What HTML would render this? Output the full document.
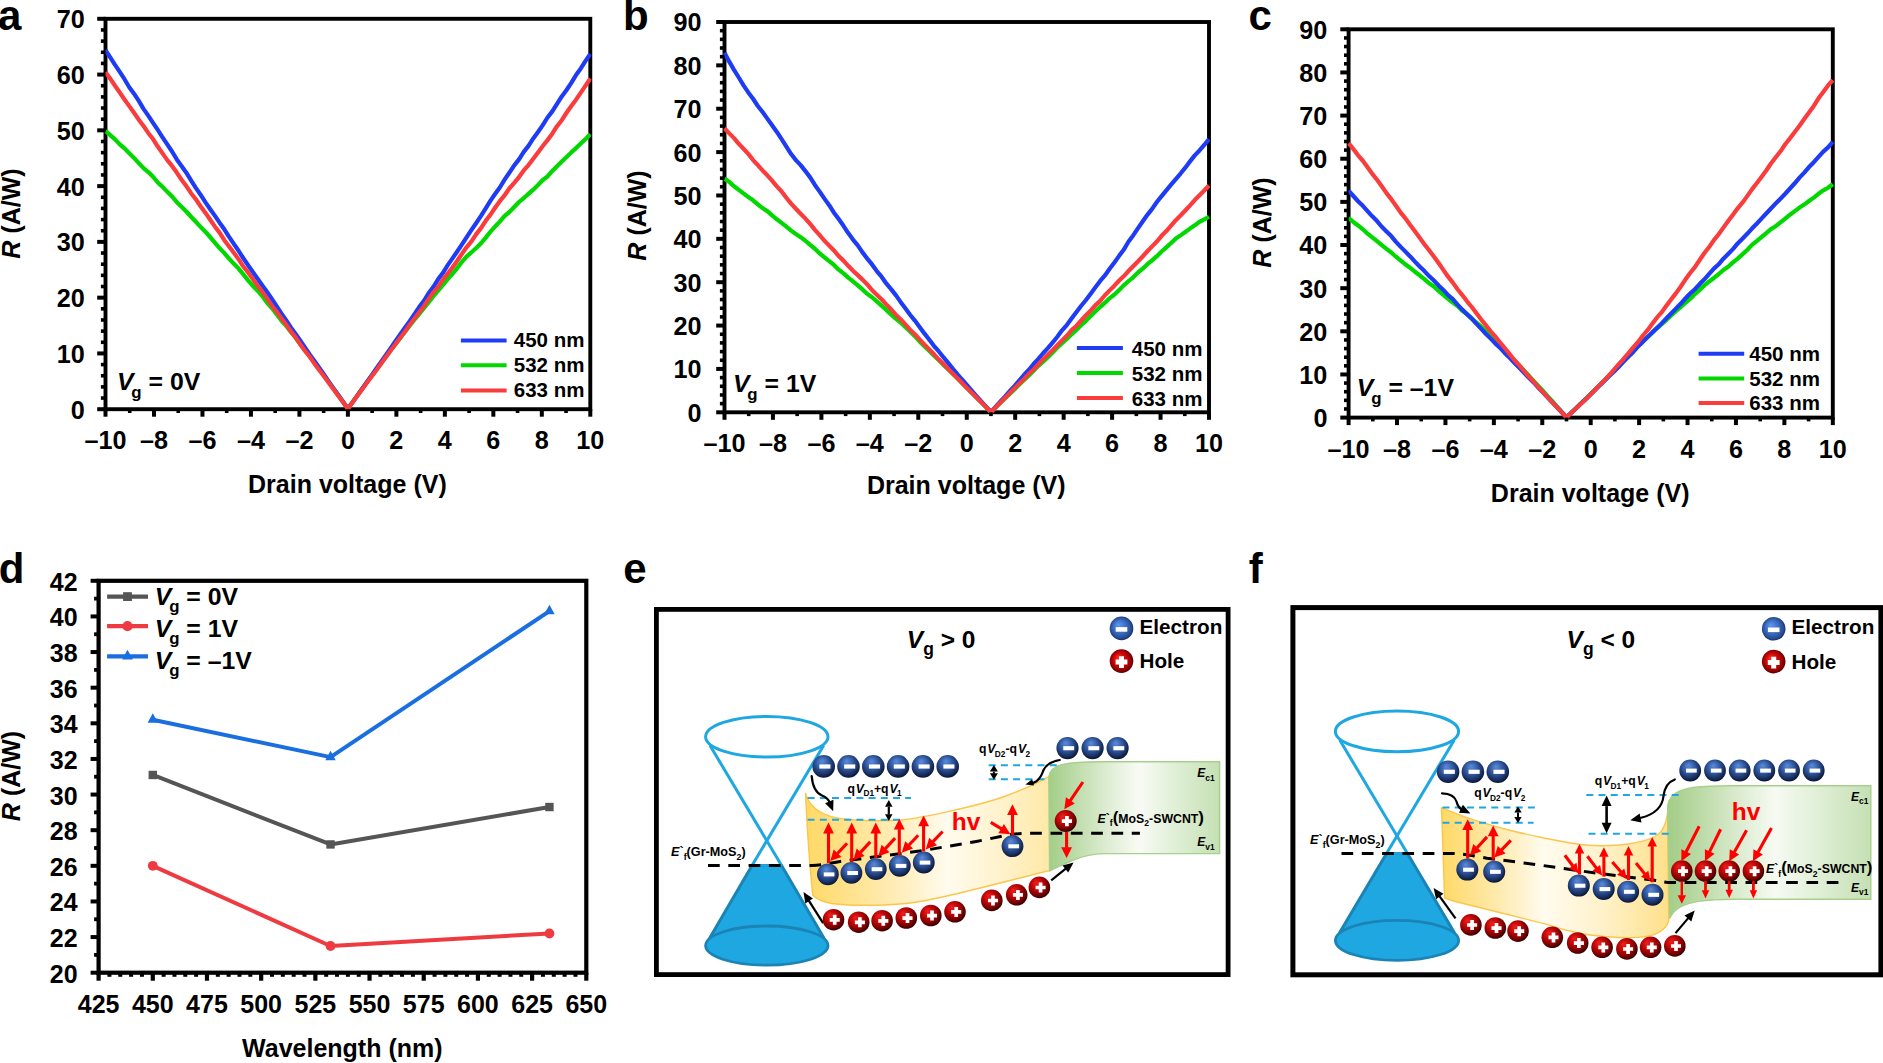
<!DOCTYPE html>
<html lang="en"><head><meta charset="utf-8"><title>Responsivity and band diagrams</title>
<style>html,body{margin:0;padding:0;background:#fff;overflow:hidden;}svg{display:block;font-family:"Liberation Sans",sans-serif;font-weight:bold;}</style></head><body>
<svg width="1883" height="1063" viewBox="0 0 1883 1063">
<defs>
<radialGradient id="gE" cx="0.46" cy="0.42" r="0.62" fx="0.42" fy="0.27"><stop offset="0" stop-color="#5e8cda"/><stop offset="0.4" stop-color="#3660aa"/><stop offset="0.76" stop-color="#1a3266"/><stop offset="1" stop-color="#050d24"/></radialGradient>
<radialGradient id="gH" cx="0.44" cy="0.42" r="0.64" fx="0.34" fy="0.28"><stop offset="0" stop-color="#ee2020"/><stop offset="0.42" stop-color="#c20606"/><stop offset="0.74" stop-color="#7a0202"/><stop offset="1" stop-color="#1c0000"/></radialGradient>
<radialGradient id="gE2" cx="0.5" cy="0.5" r="0.56" fx="0.36" fy="0.34"><stop offset="0" stop-color="#5c98f4"/><stop offset="0.45" stop-color="#3f72c8"/><stop offset="0.8" stop-color="#274c92"/><stop offset="1" stop-color="#0b1a40"/></radialGradient>
<radialGradient id="gH2" cx="0.5" cy="0.5" r="0.56" fx="0.36" fy="0.34"><stop offset="0" stop-color="#ff2c2c"/><stop offset="0.45" stop-color="#d00808"/><stop offset="0.8" stop-color="#8c0000"/><stop offset="1" stop-color="#360000"/></radialGradient>
<linearGradient id="gY" x1="0" x2="1" y1="0" y2="0"><stop offset="0" stop-color="#ffd966"/><stop offset="0.2" stop-color="#ffe391"/><stop offset="0.42" stop-color="#fff0c4"/><stop offset="0.58" stop-color="#fffbee"/><stop offset="0.8" stop-color="#fff2cc"/><stop offset="1" stop-color="#ffe9a6"/></linearGradient>
<linearGradient id="gYf" x1="0" x2="1" y1="0" y2="0"><stop offset="0" stop-color="#ffd966"/><stop offset="0.15" stop-color="#ffe391"/><stop offset="0.32" stop-color="#fff0c4"/><stop offset="0.45" stop-color="#fffbee"/><stop offset="0.7" stop-color="#fff2cc"/><stop offset="1" stop-color="#ffe08a"/></linearGradient>
<linearGradient id="gG" x1="0" x2="1" y1="0" y2="0"><stop offset="0" stop-color="#a3cd87"/><stop offset="0.16" stop-color="#bfdcab"/><stop offset="0.36" stop-color="#e0eed6"/><stop offset="0.53" stop-color="#f8fbf5"/><stop offset="0.72" stop-color="#e2f0d9"/><stop offset="1" stop-color="#c5e0b4"/></linearGradient>
<linearGradient id="gGf" x1="0" x2="1" y1="0" y2="0"><stop offset="0" stop-color="#a3cd87"/><stop offset="0.18" stop-color="#bfdcab"/><stop offset="0.38" stop-color="#e0eed6"/><stop offset="0.53" stop-color="#f6faf2"/><stop offset="0.72" stop-color="#e2f0d9"/><stop offset="1" stop-color="#c5e0b4"/></linearGradient>
<marker id="aK" viewBox="0 0 10 10" refX="8.5" refY="5" markerWidth="4.2" markerHeight="4.2" orient="auto-start-reverse"><path d="M0,0.6 L10,5 L0,9.4 Z" fill="#000"/></marker>
<marker id="aR" viewBox="0 0 10 10" refX="8.5" refY="5" markerWidth="4.2" markerHeight="4.2" orient="auto-start-reverse"><path d="M0,0.6 L10,5 L0,9.4 Z" fill="#ff1010"/></marker>
</defs>
<rect width="1883" height="1063" fill="#fff"/>
<text x="-2" y="29.9" font-size="42" text-anchor="start" fill="#000" >a</text>
<text x="623" y="29.9" font-size="42" text-anchor="start" fill="#000" >b</text>
<text x="1248.6" y="29.9" font-size="42" text-anchor="start" fill="#000" >c</text>
<text x="-1.2" y="582.7" font-size="42" text-anchor="start" fill="#000" >d</text>
<text x="623.2" y="582.9" font-size="42" text-anchor="start" fill="#000" >e</text>
<text x="1248.8" y="582.6" font-size="42" text-anchor="start" fill="#000" >f</text>
<clipPath id="cA"><rect x="104.3" y="18.8" width="487.2" height="392.6"/></clipPath>
<clipPath id="cB"><rect x="723.3" y="22" width="486.9" height="392.5"/></clipPath>
<clipPath id="cC"><rect x="1347.4" y="29.3" width="486.6" height="390.5"/></clipPath>
<rect x="105.5" y="18.8" width="484.8" height="390.4" fill="none" stroke="#000" stroke-width="3.9"/>
<rect x="724.5" y="22" width="484.5" height="390.3" fill="none" stroke="#000" stroke-width="3.9"/>
<rect x="1348.6" y="29.3" width="484.2" height="388.3" fill="none" stroke="#000" stroke-width="3.9"/>
<polyline points="105.5,130.9 110.25,135.13 115.01,139.42 119.76,144.39 124.51,148.38 129.26,153.25 134.02,157.91 138.77,163.08 143.52,168.09 148.28,172.08 153.03,176.77 157.78,182.53 162.54,186.87 167.29,191.83 172.04,196.38 176.79,202.17 181.55,206.77 186.3,211.52 191.05,216.76 195.81,221.77 200.56,226.85 205.31,231.71 210.06,237.01 214.82,242.56 219.57,248.13 224.32,253.08 229.08,258.68 233.83,263.85 238.58,268.57 243.34,274.38 248.09,280.41 252.84,285.97 257.59,290.63 262.35,296.27 267.1,302.8 271.85,308.04 276.61,314.19 281.36,320.53 286.11,325.72 290.86,332.03 295.62,337.77 300.37,344.5 305.12,350.61 309.88,356.42 314.63,362.82 319.38,369.29 324.14,375.71 328.89,382.27 333.64,388.69 338.39,395.31 343.15,402.06 347.9,408.75 352.65,402.05 357.41,395.36 362.16,388.68 366.91,382.11 371.66,375.71 376.42,369.23 381.17,363.12 385.92,356.7 390.68,350.08 395.43,344.13 400.18,338.17 404.94,331.78 409.69,325.61 414.44,319.65 419.19,314.05 423.95,308.11 428.7,302.19 433.45,296.09 438.21,290.6 442.96,285 447.71,279.13 452.46,273.82 457.22,268.05 461.97,261.8 466.72,256.37 471.48,252.3 476.23,248.04 480.98,243.32 485.74,237.66 490.49,231.69 495.24,226.46 499.99,221.38 504.75,215.95 509.5,211.88 514.25,206.97 519.01,202.01 523.76,198.04 528.51,193.82 533.26,189.67 538.02,184.95 542.77,179.98 547.52,176.45 552.28,170.96 557.03,166.28 561.78,161.55 566.54,157.07 571.29,152.37 576.04,148.07 580.79,143.41 585.55,138.94 590.3,134.25" fill="none" stroke="#00d800" stroke-width="4.2" stroke-linejoin="round" clip-path="url(#cA)"/>
<polyline points="105.5,50.03 110.25,57.39 115.01,64.84 119.76,71.92 124.51,79.22 129.26,87.21 134.02,93.63 138.77,100.9 143.52,108.87 148.28,115.64 153.03,122.9 157.78,129.95 162.54,137.34 167.29,144.44 172.04,151.48 176.79,159.41 181.55,165.99 186.3,172.73 191.05,180.37 195.81,187.87 200.56,194.72 205.31,202.12 210.06,208.93 214.82,215.6 219.57,222.66 224.32,229.27 229.08,236.86 233.83,243.93 238.58,250.77 243.34,258.25 248.09,265.23 252.84,271.94 257.59,278.71 262.35,285.55 267.1,292.04 271.85,298.92 276.61,306.15 281.36,313.41 286.11,320.26 290.86,327.38 295.62,333.89 300.37,340.74 305.12,347.59 309.88,354.61 314.63,361.24 319.38,368.03 324.14,374.81 328.89,381.84 333.64,388.59 338.39,395.2 343.15,401.98 347.9,408.75 352.65,402.1 357.41,395.36 362.16,388.74 366.91,381.94 371.66,375.37 376.42,368.41 381.17,361.62 385.92,355.08 390.68,348.22 395.43,341.16 400.18,334.47 404.94,327.83 409.69,321.24 414.44,314.3 419.19,307.03 423.95,300.73 428.7,293 433.45,286.79 438.21,279.12 442.96,272.83 447.71,265.11 452.46,258.37 457.22,251.54 461.97,244.4 466.72,237.07 471.48,229.93 476.23,223 480.98,215.87 485.74,208.29 490.49,200.61 495.24,193.78 499.99,187.26 504.75,179.38 509.5,172.51 514.25,165.4 519.01,159.35 523.76,151.92 528.51,145.89 533.26,138.41 538.02,132 542.77,125.16 547.52,117.48 552.28,111.34 557.03,103.85 561.78,96.43 566.54,90.02 571.29,82.95 576.04,75.07 580.79,68.42 585.55,60.91 590.3,53.94" fill="none" stroke="#1f3cf5" stroke-width="4.2" stroke-linejoin="round" clip-path="url(#cA)"/>
<polyline points="105.5,72.34 110.25,78.63 115.01,85.72 119.76,92.46 124.51,99.45 129.26,106.13 134.02,112.72 138.77,119.66 143.52,126.01 148.28,132.93 153.03,139.04 157.78,146.57 162.54,153.35 167.29,160.09 172.04,165.91 176.79,172.53 181.55,179.77 186.3,186.06 191.05,193.19 195.81,199.29 200.56,206.19 205.31,212.67 210.06,219.51 214.82,226.43 219.57,232.63 224.32,240.19 229.08,246.51 233.83,252.79 238.58,259.2 243.34,266.55 248.09,272.44 252.84,278.92 257.59,285.7 262.35,291.85 267.1,298.63 271.85,305.69 276.61,311.65 281.36,318.33 286.11,324.48 290.86,331.32 295.62,337.38 300.37,344.45 305.12,350.9 309.88,357.02 314.63,363.93 319.38,370.33 324.14,376.54 328.89,383 333.64,389.5 338.39,395.9 343.15,402.35 347.9,408.75 352.65,402.3 357.41,395.81 362.16,389.35 366.91,382.84 371.66,376.48 376.42,370.25 381.17,363.47 385.92,356.94 390.68,350.5 395.43,344.27 400.18,337.71 404.94,331.7 409.69,324.7 414.44,318.51 419.19,312.39 423.95,306.21 428.7,298.89 433.45,292.31 438.21,286.87 442.96,279.62 447.71,273.59 452.46,267.41 457.22,260.76 461.97,253.72 466.72,247.05 471.48,241.37 476.23,234.12 480.98,228.14 485.74,220.78 490.49,214.64 495.24,207.5 499.99,200.92 504.75,195.07 509.5,188.24 514.25,182.86 519.01,177.06 523.76,170.45 528.51,165.07 533.26,158.83 538.02,152.47 542.77,146.01 547.52,140.12 552.28,133.74 557.03,126.24 561.78,120.2 566.54,112.75 571.29,106.01 576.04,99.7 580.79,92.65 585.55,85.56 590.3,78.48" fill="none" stroke="#fa3c3c" stroke-width="4.2" stroke-linejoin="round" clip-path="url(#cA)"/>
<polyline points="724.5,178.55 729.26,181.92 734.02,186.23 738.78,189.81 743.53,193.35 748.29,197.08 753.05,200.29 757.81,204.39 762.57,208.07 767.33,211.14 772.08,215.36 776.84,219.28 781.6,222.9 786.36,226.65 791.12,230.59 795.88,234.05 800.64,237.17 805.39,240.71 810.15,244.9 814.91,248.75 819.67,253.46 824.43,257.31 829.19,261.05 833.95,264.98 838.7,269.7 843.46,273.36 848.22,277.62 852.98,281.37 857.74,285.29 862.5,289.41 867.25,293.91 872.01,297.28 876.77,301.39 881.53,305.61 886.29,309.86 891.05,314.35 895.81,318.74 900.56,322.58 905.32,327.04 910.08,331.57 914.84,336.11 919.6,341.4 924.36,346.18 929.11,350.83 933.87,355.47 938.63,360 943.39,364.86 948.15,369.25 952.91,373.95 957.67,378.62 962.42,383.53 967.18,388.34 971.94,393.03 976.7,397.71 981.46,402.48 986.22,407.2 990.98,411.95 995.71,407.41 1000.45,402.84 1005.19,398.31 1009.93,393.66 1014.67,389.18 1019.41,384.59 1024.15,379.86 1028.89,375.44 1033.63,370.71 1038.37,365.9 1043.11,361.76 1047.85,357.21 1052.59,352.52 1057.33,347.54 1062.07,343.12 1066.81,338.93 1071.55,334.35 1076.29,329.99 1081.03,325.27 1085.77,321.17 1090.51,316.16 1095.25,311.55 1099.99,307.09 1104.73,302.89 1109.47,298.32 1114.21,294.79 1118.95,290.24 1123.69,285.37 1128.43,281.27 1133.17,277.34 1137.9,272.63 1142.64,268.66 1147.38,264.23 1152.12,260.41 1156.86,256.15 1161.6,251.51 1166.34,247.41 1171.08,243.02 1175.82,238.6 1180.56,235.36 1185.3,232.02 1190.04,228.58 1194.78,225.32 1199.52,221.81 1204.26,219.4 1209,216.72" fill="none" stroke="#00d800" stroke-width="4.2" stroke-linejoin="round" clip-path="url(#cB)"/>
<polyline points="724.5,52.79 729.26,61.67 734.02,69.86 738.78,77.49 743.53,85.43 748.29,92.39 753.05,98.76 757.81,105.97 762.57,111.96 767.33,118.63 772.08,125.3 776.84,131.91 781.6,139.16 786.36,146.63 791.12,154.07 795.88,160.08 800.64,165.12 805.39,171.07 810.15,177.37 814.91,184.96 819.67,191.6 824.43,198.62 829.19,205.15 833.95,212.7 838.7,219.12 843.46,225.83 848.22,233.1 852.98,239.56 857.74,245.34 862.5,252.4 867.25,258.6 872.01,264.43 876.77,271.07 881.53,276.7 886.29,283.43 891.05,289.09 895.81,295.14 900.56,301.9 905.32,308.23 910.08,314.72 914.84,320.56 919.6,326.9 924.36,333.41 929.11,339.43 933.87,345.77 938.63,351.22 943.39,357.21 948.15,362.84 952.91,368.79 957.67,374.61 962.42,379.86 967.18,385.44 971.94,390.85 976.7,396.27 981.46,401.58 986.22,406.81 990.98,411.95 995.71,406.76 1000.45,401.52 1005.19,396.37 1009.93,390.9 1014.67,385.82 1019.41,380.25 1024.15,374.81 1028.89,369.79 1033.63,364.03 1038.37,358.83 1043.11,353.25 1047.85,348.12 1052.59,342.53 1057.33,336.77 1062.07,330.36 1066.81,325.09 1071.55,318.55 1076.29,312.23 1081.03,305.98 1085.77,300.22 1090.51,293.94 1095.25,287.55 1099.99,281.18 1104.73,275.69 1109.47,269.03 1114.21,262.72 1118.95,256.11 1123.69,249.82 1128.43,241.8 1133.17,235.4 1137.9,228.37 1142.64,221.54 1147.38,214.81 1152.12,208.92 1156.86,202.05 1161.6,196.14 1166.34,190.31 1171.08,184.55 1175.82,179.06 1180.56,173.52 1185.3,167.69 1190.04,161.37 1194.78,155.34 1199.52,150.42 1204.26,144.96 1209,139.09" fill="none" stroke="#1f3cf5" stroke-width="4.2" stroke-linejoin="round" clip-path="url(#cB)"/>
<polyline points="724.5,128.25 729.26,133.38 734.02,138.14 738.78,143.79 743.53,148.71 748.29,153.86 753.05,160.08 757.81,165.06 762.57,170.49 767.33,175.31 772.08,180.68 776.84,186.37 781.6,191.45 786.36,197.73 791.12,203.61 795.88,208.74 800.64,213.7 805.39,218.53 810.15,223.9 814.91,229.87 819.67,235.06 824.43,240.75 829.19,245.62 833.95,250.43 838.7,256.02 843.46,260.63 848.22,265.82 852.98,270.66 857.74,275.11 862.5,279.6 867.25,284.47 872.01,290.01 876.77,294.75 881.53,299.28 886.29,304.4 891.05,309.29 895.81,314.73 900.56,319.23 905.32,324.41 910.08,329.71 914.84,334.26 919.6,339.37 924.36,344.44 929.11,349.15 933.87,354.05 938.63,359.3 943.39,363.88 948.15,368.96 952.91,373.62 957.67,378.59 962.42,383.33 967.18,388.33 971.94,393.03 976.7,397.75 981.46,402.46 986.22,407.22 990.98,411.95 995.71,407.24 1000.45,402.5 1005.19,397.82 1009.93,393.07 1014.67,388.15 1019.41,383.43 1024.15,378.92 1028.89,373.83 1033.63,369.44 1038.37,364.51 1043.11,359.39 1047.85,354.76 1052.59,350.17 1057.33,345.3 1062.07,340.45 1066.81,335.8 1071.55,330.14 1076.29,326.03 1081.03,320.77 1085.77,315.53 1090.51,310.87 1095.25,305.4 1099.99,301.08 1104.73,295.49 1109.47,290.62 1114.21,285.89 1118.95,280.8 1123.69,276.3 1128.43,271.07 1133.17,266.18 1137.9,261.46 1142.64,256.49 1147.38,251.23 1152.12,246.39 1156.86,241.55 1161.6,235.84 1166.34,231.06 1171.08,225.63 1175.82,220.13 1180.56,215.47 1185.3,210.5 1190.04,205.39 1194.78,200.02 1199.52,195.29 1204.26,190.52 1209,185.49" fill="none" stroke="#fa3c3c" stroke-width="4.2" stroke-linejoin="round" clip-path="url(#cB)"/>
<polyline points="1348.6,217.84 1353.34,221.97 1358.07,225.47 1362.81,229.28 1367.55,233.58 1372.28,237.32 1377.02,241.06 1381.76,245.14 1386.49,248.88 1391.23,252.49 1395.97,256.72 1400.7,260.66 1405.44,264.46 1410.18,267.82 1414.91,271.74 1419.65,275.27 1424.39,279.1 1429.12,283.24 1433.86,286.52 1438.6,290.82 1443.33,294.9 1448.07,298.82 1452.81,302.63 1457.54,306.09 1462.28,310.78 1467.02,314.02 1471.76,318.63 1476.49,322.67 1481.23,326.64 1485.97,331.32 1490.7,336.22 1495.44,340.98 1500.18,345.19 1504.91,350.38 1509.65,355.55 1514.39,360.52 1519.12,365.3 1523.86,370.51 1528.6,375.32 1533.33,380.59 1538.07,385.59 1542.81,390.71 1547.54,396.04 1552.28,401.18 1557.02,406.55 1561.75,411.87 1566.49,417.25 1571.25,412.72 1576,408.16 1580.76,403.51 1585.51,398.9 1590.27,394.35 1595.02,389.44 1599.78,385.05 1604.53,380.2 1609.29,375.27 1614.05,370.8 1618.8,365.7 1623.56,361.03 1628.31,355.63 1633.07,350.69 1637.82,346.16 1642.58,341.35 1647.33,337.39 1652.09,332.68 1656.85,328.45 1661.6,324.19 1666.36,320.05 1671.11,315.47 1675.87,311.12 1680.62,307.24 1685.38,302.76 1690.13,298.95 1694.89,294.09 1699.64,289.87 1704.4,285.38 1709.16,281.45 1713.91,277.97 1718.67,274.04 1723.42,269.99 1728.18,266.72 1732.93,262.42 1737.69,258.61 1742.44,254.35 1747.2,249.95 1751.96,244.9 1756.71,241.18 1761.47,237.09 1766.22,233.18 1770.98,229.1 1775.73,226.19 1780.49,222.29 1785.24,218.59 1790,214.7 1794.76,211.17 1799.51,207.57 1804.27,204.56 1809.02,200.98 1813.78,197.61 1818.53,193.77 1823.29,190.36 1828.04,187.75 1832.8,184.19" fill="none" stroke="#00d800" stroke-width="4.2" stroke-linejoin="round" clip-path="url(#cC)"/>
<polyline points="1348.6,190.66 1353.34,195.98 1358.07,201.22 1362.81,205.85 1367.55,211.1 1372.28,216.33 1377.02,221.09 1381.76,226.77 1386.49,231.5 1391.23,236.09 1395.97,241.86 1400.7,246.88 1405.44,251.64 1410.18,256.45 1414.91,261.6 1419.65,266.54 1424.39,271.1 1429.12,276.08 1433.86,280.47 1438.6,285.4 1443.33,289.93 1448.07,295.2 1452.81,299.2 1457.54,304.66 1462.28,309.62 1467.02,314.23 1471.76,318.63 1476.49,323.91 1481.23,328.89 1485.97,333.95 1490.7,338.62 1495.44,343.59 1500.18,347.84 1504.91,353.19 1509.65,357.84 1514.39,362.75 1519.12,367.64 1523.86,372.46 1528.6,377.59 1533.33,382.2 1538.07,387.43 1542.81,392.42 1547.54,397.22 1552.28,402.31 1557.02,407.19 1561.75,412.26 1566.49,417.25 1571.25,412.81 1576,408.41 1580.76,403.82 1585.51,399.41 1590.27,394.69 1595.02,390.06 1599.78,385.3 1604.53,380.64 1609.29,376.09 1614.05,371.53 1618.8,366.75 1623.56,361.63 1628.31,356.74 1633.07,352.19 1637.82,346.65 1642.58,342.16 1647.33,337.2 1652.09,332.82 1656.85,328.01 1661.6,323.43 1666.36,318.34 1671.11,313.59 1675.87,308.62 1680.62,303.78 1685.38,298.49 1690.13,293.53 1694.89,289.22 1699.64,284.08 1704.4,279.31 1709.16,273.9 1713.91,268.62 1718.67,264.27 1723.42,258.73 1728.18,254.02 1732.93,249.14 1737.69,243.42 1742.44,238.73 1747.2,233.83 1751.96,228.58 1756.71,223.73 1761.47,218.55 1766.22,213.53 1770.98,208.58 1775.73,203.43 1780.49,198.66 1785.24,193.72 1790,188.54 1794.76,183.28 1799.51,177.68 1804.27,172.59 1809.02,167.04 1813.78,162.18 1818.53,156.9 1823.29,151.58 1828.04,147.32 1832.8,141.91" fill="none" stroke="#1f3cf5" stroke-width="4.2" stroke-linejoin="round" clip-path="url(#cC)"/>
<polyline points="1348.6,143.2 1353.34,148.98 1358.07,155.37 1362.81,160.75 1367.55,167.31 1372.28,173.89 1377.02,179.79 1381.76,186.29 1386.49,193.18 1391.23,199.15 1395.97,205.72 1400.7,212.68 1405.44,218.39 1410.18,225.05 1414.91,231.35 1419.65,237.64 1424.39,244.17 1429.12,250.3 1433.86,256.47 1438.6,263 1443.33,269.91 1448.07,276.67 1452.81,282.62 1457.54,289.24 1462.28,295.08 1467.02,301.32 1471.76,307.03 1476.49,313.34 1481.23,319.59 1485.97,325.36 1490.7,331.29 1495.44,336.65 1500.18,342.68 1504.91,348.25 1509.65,354.18 1514.39,360.01 1519.12,365.2 1523.86,370.7 1528.6,376.31 1533.33,381.31 1538.07,386.76 1542.81,392.14 1547.54,397.09 1552.28,402.35 1557.02,407.36 1561.75,412.33 1566.49,417.25 1571.25,412.97 1576,408.52 1580.76,403.95 1585.51,399.46 1590.27,394.81 1595.02,390 1599.78,384.93 1604.53,380.17 1609.29,375.07 1614.05,369.68 1618.8,364.1 1623.56,358.97 1628.31,353.43 1633.07,347.57 1637.82,342.26 1642.58,335.99 1647.33,330.41 1652.09,324.04 1656.85,317.69 1661.6,312.39 1666.36,305.76 1671.11,299.4 1675.87,293.38 1680.62,286.77 1685.38,279.58 1690.13,272.97 1694.89,267.1 1699.64,259.97 1704.4,253.02 1709.16,246.93 1713.91,240.1 1718.67,234.2 1723.42,227.61 1728.18,221.06 1732.93,214.84 1737.69,208.35 1742.44,202.65 1747.2,196.13 1751.96,189.37 1756.71,183.26 1761.47,176.96 1766.22,170.52 1770.98,163.49 1775.73,157.32 1780.49,151.31 1785.24,144.23 1790,138.33 1794.76,131.93 1799.51,125.7 1804.27,119.01 1809.02,112.51 1813.78,105.93 1818.53,98.27 1823.29,92.01 1828.04,85.42 1832.8,80.21" fill="none" stroke="#fa3c3c" stroke-width="4.2" stroke-linejoin="round" clip-path="url(#cC)"/>
<line x1="100.9" y1="398.05" x2="105.5" y2="398.05" stroke="#000" stroke-width="3.6" />
<line x1="100.9" y1="386.89" x2="105.5" y2="386.89" stroke="#000" stroke-width="3.6" />
<line x1="100.9" y1="375.74" x2="105.5" y2="375.74" stroke="#000" stroke-width="3.6" />
<line x1="100.9" y1="364.58" x2="105.5" y2="364.58" stroke="#000" stroke-width="3.6" />
<line x1="100.9" y1="342.27" x2="105.5" y2="342.27" stroke="#000" stroke-width="3.6" />
<line x1="100.9" y1="331.12" x2="105.5" y2="331.12" stroke="#000" stroke-width="3.6" />
<line x1="100.9" y1="319.97" x2="105.5" y2="319.97" stroke="#000" stroke-width="3.6" />
<line x1="100.9" y1="308.81" x2="105.5" y2="308.81" stroke="#000" stroke-width="3.6" />
<line x1="100.9" y1="286.5" x2="105.5" y2="286.5" stroke="#000" stroke-width="3.6" />
<line x1="100.9" y1="275.35" x2="105.5" y2="275.35" stroke="#000" stroke-width="3.6" />
<line x1="100.9" y1="264.19" x2="105.5" y2="264.19" stroke="#000" stroke-width="3.6" />
<line x1="100.9" y1="253.04" x2="105.5" y2="253.04" stroke="#000" stroke-width="3.6" />
<line x1="100.9" y1="230.73" x2="105.5" y2="230.73" stroke="#000" stroke-width="3.6" />
<line x1="100.9" y1="219.58" x2="105.5" y2="219.58" stroke="#000" stroke-width="3.6" />
<line x1="100.9" y1="208.42" x2="105.5" y2="208.42" stroke="#000" stroke-width="3.6" />
<line x1="100.9" y1="197.27" x2="105.5" y2="197.27" stroke="#000" stroke-width="3.6" />
<line x1="100.9" y1="174.96" x2="105.5" y2="174.96" stroke="#000" stroke-width="3.6" />
<line x1="100.9" y1="163.81" x2="105.5" y2="163.81" stroke="#000" stroke-width="3.6" />
<line x1="100.9" y1="152.65" x2="105.5" y2="152.65" stroke="#000" stroke-width="3.6" />
<line x1="100.9" y1="141.5" x2="105.5" y2="141.5" stroke="#000" stroke-width="3.6" />
<line x1="100.9" y1="119.19" x2="105.5" y2="119.19" stroke="#000" stroke-width="3.6" />
<line x1="100.9" y1="108.03" x2="105.5" y2="108.03" stroke="#000" stroke-width="3.6" />
<line x1="100.9" y1="96.88" x2="105.5" y2="96.88" stroke="#000" stroke-width="3.6" />
<line x1="100.9" y1="85.73" x2="105.5" y2="85.73" stroke="#000" stroke-width="3.6" />
<line x1="100.9" y1="63.42" x2="105.5" y2="63.42" stroke="#000" stroke-width="3.6" />
<line x1="100.9" y1="52.26" x2="105.5" y2="52.26" stroke="#000" stroke-width="3.6" />
<line x1="100.9" y1="41.11" x2="105.5" y2="41.11" stroke="#000" stroke-width="3.6" />
<line x1="100.9" y1="29.95" x2="105.5" y2="29.95" stroke="#000" stroke-width="3.6" />
<line x1="97.2" y1="409.2" x2="105.5" y2="409.2" stroke="#000" stroke-width="4" />
<text x="84.8" y="418.62" font-size="25.2" text-anchor="end" fill="#000" >0</text>
<line x1="97.2" y1="353.43" x2="105.5" y2="353.43" stroke="#000" stroke-width="4" />
<text x="84.8" y="362.85" font-size="25.2" text-anchor="end" fill="#000" >10</text>
<line x1="97.2" y1="297.66" x2="105.5" y2="297.66" stroke="#000" stroke-width="4" />
<text x="84.8" y="307.08" font-size="25.2" text-anchor="end" fill="#000" >20</text>
<line x1="97.2" y1="241.89" x2="105.5" y2="241.89" stroke="#000" stroke-width="4" />
<text x="84.8" y="251.31" font-size="25.2" text-anchor="end" fill="#000" >30</text>
<line x1="97.2" y1="186.11" x2="105.5" y2="186.11" stroke="#000" stroke-width="4" />
<text x="84.8" y="195.54" font-size="25.2" text-anchor="end" fill="#000" >40</text>
<line x1="97.2" y1="130.34" x2="105.5" y2="130.34" stroke="#000" stroke-width="4" />
<text x="84.8" y="139.76" font-size="25.2" text-anchor="end" fill="#000" >50</text>
<line x1="97.2" y1="74.57" x2="105.5" y2="74.57" stroke="#000" stroke-width="4" />
<text x="84.8" y="83.99" font-size="25.2" text-anchor="end" fill="#000" >60</text>
<line x1="97.2" y1="18.8" x2="105.5" y2="18.8" stroke="#000" stroke-width="4" />
<text x="84.8" y="28.22" font-size="25.2" text-anchor="end" fill="#000" >70</text>
<line x1="129.74" y1="409.2" x2="129.74" y2="413" stroke="#000" stroke-width="3.6" />
<line x1="178.22" y1="409.2" x2="178.22" y2="413" stroke="#000" stroke-width="3.6" />
<line x1="226.7" y1="409.2" x2="226.7" y2="413" stroke="#000" stroke-width="3.6" />
<line x1="275.18" y1="409.2" x2="275.18" y2="413" stroke="#000" stroke-width="3.6" />
<line x1="323.66" y1="409.2" x2="323.66" y2="413" stroke="#000" stroke-width="3.6" />
<line x1="372.14" y1="409.2" x2="372.14" y2="413" stroke="#000" stroke-width="3.6" />
<line x1="420.62" y1="409.2" x2="420.62" y2="413" stroke="#000" stroke-width="3.6" />
<line x1="469.1" y1="409.2" x2="469.1" y2="413" stroke="#000" stroke-width="3.6" />
<line x1="517.58" y1="409.2" x2="517.58" y2="413" stroke="#000" stroke-width="3.6" />
<line x1="566.06" y1="409.2" x2="566.06" y2="413" stroke="#000" stroke-width="3.6" />
<line x1="105.5" y1="409.2" x2="105.5" y2="416.7" stroke="#000" stroke-width="4" />
<text x="105.5" y="448.6" font-size="25.2" text-anchor="middle" fill="#000" >–10</text>
<line x1="153.98" y1="409.2" x2="153.98" y2="416.7" stroke="#000" stroke-width="4" />
<text x="153.98" y="448.6" font-size="25.2" text-anchor="middle" fill="#000" >–8</text>
<line x1="202.46" y1="409.2" x2="202.46" y2="416.7" stroke="#000" stroke-width="4" />
<text x="202.46" y="448.6" font-size="25.2" text-anchor="middle" fill="#000" >–6</text>
<line x1="250.94" y1="409.2" x2="250.94" y2="416.7" stroke="#000" stroke-width="4" />
<text x="250.94" y="448.6" font-size="25.2" text-anchor="middle" fill="#000" >–4</text>
<line x1="299.42" y1="409.2" x2="299.42" y2="416.7" stroke="#000" stroke-width="4" />
<text x="299.42" y="448.6" font-size="25.2" text-anchor="middle" fill="#000" >–2</text>
<line x1="347.9" y1="409.2" x2="347.9" y2="416.7" stroke="#000" stroke-width="4" />
<text x="347.9" y="448.6" font-size="25.2" text-anchor="middle" fill="#000" >0</text>
<line x1="396.38" y1="409.2" x2="396.38" y2="416.7" stroke="#000" stroke-width="4" />
<text x="396.38" y="448.6" font-size="25.2" text-anchor="middle" fill="#000" >2</text>
<line x1="444.86" y1="409.2" x2="444.86" y2="416.7" stroke="#000" stroke-width="4" />
<text x="444.86" y="448.6" font-size="25.2" text-anchor="middle" fill="#000" >4</text>
<line x1="493.34" y1="409.2" x2="493.34" y2="416.7" stroke="#000" stroke-width="4" />
<text x="493.34" y="448.6" font-size="25.2" text-anchor="middle" fill="#000" >6</text>
<line x1="541.82" y1="409.2" x2="541.82" y2="416.7" stroke="#000" stroke-width="4" />
<text x="541.82" y="448.6" font-size="25.2" text-anchor="middle" fill="#000" >8</text>
<line x1="590.3" y1="409.2" x2="590.3" y2="416.7" stroke="#000" stroke-width="4" />
<text x="590.3" y="448.6" font-size="25.2" text-anchor="middle" fill="#000" >10</text>
<text x="347.4" y="492.8" font-size="25" text-anchor="middle" fill="#000" >Drain voltage (V)</text>
<text transform="translate(20 213.5) rotate(-90)" font-size="25" text-anchor="middle"><tspan font-style="italic">R</tspan> (A/W)</text>
<line x1="719.9" y1="403.63" x2="724.5" y2="403.63" stroke="#000" stroke-width="3.6" />
<line x1="719.9" y1="394.95" x2="724.5" y2="394.95" stroke="#000" stroke-width="3.6" />
<line x1="719.9" y1="386.28" x2="724.5" y2="386.28" stroke="#000" stroke-width="3.6" />
<line x1="719.9" y1="377.61" x2="724.5" y2="377.61" stroke="#000" stroke-width="3.6" />
<line x1="719.9" y1="360.26" x2="724.5" y2="360.26" stroke="#000" stroke-width="3.6" />
<line x1="719.9" y1="351.59" x2="724.5" y2="351.59" stroke="#000" stroke-width="3.6" />
<line x1="719.9" y1="342.91" x2="724.5" y2="342.91" stroke="#000" stroke-width="3.6" />
<line x1="719.9" y1="334.24" x2="724.5" y2="334.24" stroke="#000" stroke-width="3.6" />
<line x1="719.9" y1="316.89" x2="724.5" y2="316.89" stroke="#000" stroke-width="3.6" />
<line x1="719.9" y1="308.22" x2="724.5" y2="308.22" stroke="#000" stroke-width="3.6" />
<line x1="719.9" y1="299.55" x2="724.5" y2="299.55" stroke="#000" stroke-width="3.6" />
<line x1="719.9" y1="290.87" x2="724.5" y2="290.87" stroke="#000" stroke-width="3.6" />
<line x1="719.9" y1="273.53" x2="724.5" y2="273.53" stroke="#000" stroke-width="3.6" />
<line x1="719.9" y1="264.85" x2="724.5" y2="264.85" stroke="#000" stroke-width="3.6" />
<line x1="719.9" y1="256.18" x2="724.5" y2="256.18" stroke="#000" stroke-width="3.6" />
<line x1="719.9" y1="247.51" x2="724.5" y2="247.51" stroke="#000" stroke-width="3.6" />
<line x1="719.9" y1="230.16" x2="724.5" y2="230.16" stroke="#000" stroke-width="3.6" />
<line x1="719.9" y1="221.49" x2="724.5" y2="221.49" stroke="#000" stroke-width="3.6" />
<line x1="719.9" y1="212.81" x2="724.5" y2="212.81" stroke="#000" stroke-width="3.6" />
<line x1="719.9" y1="204.14" x2="724.5" y2="204.14" stroke="#000" stroke-width="3.6" />
<line x1="719.9" y1="186.79" x2="724.5" y2="186.79" stroke="#000" stroke-width="3.6" />
<line x1="719.9" y1="178.12" x2="724.5" y2="178.12" stroke="#000" stroke-width="3.6" />
<line x1="719.9" y1="169.45" x2="724.5" y2="169.45" stroke="#000" stroke-width="3.6" />
<line x1="719.9" y1="160.77" x2="724.5" y2="160.77" stroke="#000" stroke-width="3.6" />
<line x1="719.9" y1="143.43" x2="724.5" y2="143.43" stroke="#000" stroke-width="3.6" />
<line x1="719.9" y1="134.75" x2="724.5" y2="134.75" stroke="#000" stroke-width="3.6" />
<line x1="719.9" y1="126.08" x2="724.5" y2="126.08" stroke="#000" stroke-width="3.6" />
<line x1="719.9" y1="117.41" x2="724.5" y2="117.41" stroke="#000" stroke-width="3.6" />
<line x1="719.9" y1="100.06" x2="724.5" y2="100.06" stroke="#000" stroke-width="3.6" />
<line x1="719.9" y1="91.39" x2="724.5" y2="91.39" stroke="#000" stroke-width="3.6" />
<line x1="719.9" y1="82.71" x2="724.5" y2="82.71" stroke="#000" stroke-width="3.6" />
<line x1="719.9" y1="74.04" x2="724.5" y2="74.04" stroke="#000" stroke-width="3.6" />
<line x1="719.9" y1="56.69" x2="724.5" y2="56.69" stroke="#000" stroke-width="3.6" />
<line x1="719.9" y1="48.02" x2="724.5" y2="48.02" stroke="#000" stroke-width="3.6" />
<line x1="719.9" y1="39.35" x2="724.5" y2="39.35" stroke="#000" stroke-width="3.6" />
<line x1="719.9" y1="30.67" x2="724.5" y2="30.67" stroke="#000" stroke-width="3.6" />
<line x1="716.2" y1="412.3" x2="724.5" y2="412.3" stroke="#000" stroke-width="4" />
<text x="701.6" y="421.72" font-size="25.2" text-anchor="end" fill="#000" >0</text>
<line x1="716.2" y1="368.93" x2="724.5" y2="368.93" stroke="#000" stroke-width="4" />
<text x="701.6" y="378.35" font-size="25.2" text-anchor="end" fill="#000" >10</text>
<line x1="716.2" y1="325.57" x2="724.5" y2="325.57" stroke="#000" stroke-width="4" />
<text x="701.6" y="334.99" font-size="25.2" text-anchor="end" fill="#000" >20</text>
<line x1="716.2" y1="282.2" x2="724.5" y2="282.2" stroke="#000" stroke-width="4" />
<text x="701.6" y="291.62" font-size="25.2" text-anchor="end" fill="#000" >30</text>
<line x1="716.2" y1="238.83" x2="724.5" y2="238.83" stroke="#000" stroke-width="4" />
<text x="701.6" y="248.25" font-size="25.2" text-anchor="end" fill="#000" >40</text>
<line x1="716.2" y1="195.47" x2="724.5" y2="195.47" stroke="#000" stroke-width="4" />
<text x="701.6" y="204.89" font-size="25.2" text-anchor="end" fill="#000" >50</text>
<line x1="716.2" y1="152.1" x2="724.5" y2="152.1" stroke="#000" stroke-width="4" />
<text x="701.6" y="161.52" font-size="25.2" text-anchor="end" fill="#000" >60</text>
<line x1="716.2" y1="108.73" x2="724.5" y2="108.73" stroke="#000" stroke-width="4" />
<text x="701.6" y="118.15" font-size="25.2" text-anchor="end" fill="#000" >70</text>
<line x1="716.2" y1="65.37" x2="724.5" y2="65.37" stroke="#000" stroke-width="4" />
<text x="701.6" y="74.79" font-size="25.2" text-anchor="end" fill="#000" >80</text>
<line x1="716.2" y1="22" x2="724.5" y2="22" stroke="#000" stroke-width="4" />
<text x="701.6" y="31.42" font-size="25.2" text-anchor="end" fill="#000" >90</text>
<line x1="748.73" y1="412.3" x2="748.73" y2="416.1" stroke="#000" stroke-width="3.6" />
<line x1="797.17" y1="412.3" x2="797.17" y2="416.1" stroke="#000" stroke-width="3.6" />
<line x1="845.62" y1="412.3" x2="845.62" y2="416.1" stroke="#000" stroke-width="3.6" />
<line x1="894.08" y1="412.3" x2="894.08" y2="416.1" stroke="#000" stroke-width="3.6" />
<line x1="942.52" y1="412.3" x2="942.52" y2="416.1" stroke="#000" stroke-width="3.6" />
<line x1="990.98" y1="412.3" x2="990.98" y2="416.1" stroke="#000" stroke-width="3.6" />
<line x1="1039.42" y1="412.3" x2="1039.42" y2="416.1" stroke="#000" stroke-width="3.6" />
<line x1="1087.88" y1="412.3" x2="1087.88" y2="416.1" stroke="#000" stroke-width="3.6" />
<line x1="1136.33" y1="412.3" x2="1136.33" y2="416.1" stroke="#000" stroke-width="3.6" />
<line x1="1184.78" y1="412.3" x2="1184.78" y2="416.1" stroke="#000" stroke-width="3.6" />
<line x1="724.5" y1="412.3" x2="724.5" y2="419.8" stroke="#000" stroke-width="4" />
<text x="724.5" y="451.6" font-size="25.2" text-anchor="middle" fill="#000" >–10</text>
<line x1="772.95" y1="412.3" x2="772.95" y2="419.8" stroke="#000" stroke-width="4" />
<text x="772.95" y="451.6" font-size="25.2" text-anchor="middle" fill="#000" >–8</text>
<line x1="821.4" y1="412.3" x2="821.4" y2="419.8" stroke="#000" stroke-width="4" />
<text x="821.4" y="451.6" font-size="25.2" text-anchor="middle" fill="#000" >–6</text>
<line x1="869.85" y1="412.3" x2="869.85" y2="419.8" stroke="#000" stroke-width="4" />
<text x="869.85" y="451.6" font-size="25.2" text-anchor="middle" fill="#000" >–4</text>
<line x1="918.3" y1="412.3" x2="918.3" y2="419.8" stroke="#000" stroke-width="4" />
<text x="918.3" y="451.6" font-size="25.2" text-anchor="middle" fill="#000" >–2</text>
<line x1="966.75" y1="412.3" x2="966.75" y2="419.8" stroke="#000" stroke-width="4" />
<text x="966.75" y="451.6" font-size="25.2" text-anchor="middle" fill="#000" >0</text>
<line x1="1015.2" y1="412.3" x2="1015.2" y2="419.8" stroke="#000" stroke-width="4" />
<text x="1015.2" y="451.6" font-size="25.2" text-anchor="middle" fill="#000" >2</text>
<line x1="1063.65" y1="412.3" x2="1063.65" y2="419.8" stroke="#000" stroke-width="4" />
<text x="1063.65" y="451.6" font-size="25.2" text-anchor="middle" fill="#000" >4</text>
<line x1="1112.1" y1="412.3" x2="1112.1" y2="419.8" stroke="#000" stroke-width="4" />
<text x="1112.1" y="451.6" font-size="25.2" text-anchor="middle" fill="#000" >6</text>
<line x1="1160.55" y1="412.3" x2="1160.55" y2="419.8" stroke="#000" stroke-width="4" />
<text x="1160.55" y="451.6" font-size="25.2" text-anchor="middle" fill="#000" >8</text>
<line x1="1209" y1="412.3" x2="1209" y2="419.8" stroke="#000" stroke-width="4" />
<text x="1209" y="451.6" font-size="25.2" text-anchor="middle" fill="#000" >10</text>
<text x="966.25" y="494.4" font-size="25" text-anchor="middle" fill="#000" >Drain voltage (V)</text>
<text transform="translate(646.2 215.5) rotate(-90)" font-size="25" text-anchor="middle"><tspan font-style="italic">R</tspan> (A/W)</text>
<line x1="1344" y1="408.97" x2="1348.6" y2="408.97" stroke="#000" stroke-width="3.6" />
<line x1="1344" y1="400.34" x2="1348.6" y2="400.34" stroke="#000" stroke-width="3.6" />
<line x1="1344" y1="391.71" x2="1348.6" y2="391.71" stroke="#000" stroke-width="3.6" />
<line x1="1344" y1="383.08" x2="1348.6" y2="383.08" stroke="#000" stroke-width="3.6" />
<line x1="1344" y1="365.83" x2="1348.6" y2="365.83" stroke="#000" stroke-width="3.6" />
<line x1="1344" y1="357.2" x2="1348.6" y2="357.2" stroke="#000" stroke-width="3.6" />
<line x1="1344" y1="348.57" x2="1348.6" y2="348.57" stroke="#000" stroke-width="3.6" />
<line x1="1344" y1="339.94" x2="1348.6" y2="339.94" stroke="#000" stroke-width="3.6" />
<line x1="1344" y1="322.68" x2="1348.6" y2="322.68" stroke="#000" stroke-width="3.6" />
<line x1="1344" y1="314.05" x2="1348.6" y2="314.05" stroke="#000" stroke-width="3.6" />
<line x1="1344" y1="305.42" x2="1348.6" y2="305.42" stroke="#000" stroke-width="3.6" />
<line x1="1344" y1="296.8" x2="1348.6" y2="296.8" stroke="#000" stroke-width="3.6" />
<line x1="1344" y1="279.54" x2="1348.6" y2="279.54" stroke="#000" stroke-width="3.6" />
<line x1="1344" y1="270.91" x2="1348.6" y2="270.91" stroke="#000" stroke-width="3.6" />
<line x1="1344" y1="262.28" x2="1348.6" y2="262.28" stroke="#000" stroke-width="3.6" />
<line x1="1344" y1="253.65" x2="1348.6" y2="253.65" stroke="#000" stroke-width="3.6" />
<line x1="1344" y1="236.39" x2="1348.6" y2="236.39" stroke="#000" stroke-width="3.6" />
<line x1="1344" y1="227.76" x2="1348.6" y2="227.76" stroke="#000" stroke-width="3.6" />
<line x1="1344" y1="219.14" x2="1348.6" y2="219.14" stroke="#000" stroke-width="3.6" />
<line x1="1344" y1="210.51" x2="1348.6" y2="210.51" stroke="#000" stroke-width="3.6" />
<line x1="1344" y1="193.25" x2="1348.6" y2="193.25" stroke="#000" stroke-width="3.6" />
<line x1="1344" y1="184.62" x2="1348.6" y2="184.62" stroke="#000" stroke-width="3.6" />
<line x1="1344" y1="175.99" x2="1348.6" y2="175.99" stroke="#000" stroke-width="3.6" />
<line x1="1344" y1="167.36" x2="1348.6" y2="167.36" stroke="#000" stroke-width="3.6" />
<line x1="1344" y1="150.1" x2="1348.6" y2="150.1" stroke="#000" stroke-width="3.6" />
<line x1="1344" y1="141.48" x2="1348.6" y2="141.48" stroke="#000" stroke-width="3.6" />
<line x1="1344" y1="132.85" x2="1348.6" y2="132.85" stroke="#000" stroke-width="3.6" />
<line x1="1344" y1="124.22" x2="1348.6" y2="124.22" stroke="#000" stroke-width="3.6" />
<line x1="1344" y1="106.96" x2="1348.6" y2="106.96" stroke="#000" stroke-width="3.6" />
<line x1="1344" y1="98.33" x2="1348.6" y2="98.33" stroke="#000" stroke-width="3.6" />
<line x1="1344" y1="89.7" x2="1348.6" y2="89.7" stroke="#000" stroke-width="3.6" />
<line x1="1344" y1="81.07" x2="1348.6" y2="81.07" stroke="#000" stroke-width="3.6" />
<line x1="1344" y1="63.82" x2="1348.6" y2="63.82" stroke="#000" stroke-width="3.6" />
<line x1="1344" y1="55.19" x2="1348.6" y2="55.19" stroke="#000" stroke-width="3.6" />
<line x1="1344" y1="46.56" x2="1348.6" y2="46.56" stroke="#000" stroke-width="3.6" />
<line x1="1344" y1="37.93" x2="1348.6" y2="37.93" stroke="#000" stroke-width="3.6" />
<line x1="1340.3" y1="417.6" x2="1348.6" y2="417.6" stroke="#000" stroke-width="4" />
<text x="1327.4" y="427.02" font-size="25.2" text-anchor="end" fill="#000" >0</text>
<line x1="1340.3" y1="374.46" x2="1348.6" y2="374.46" stroke="#000" stroke-width="4" />
<text x="1327.4" y="383.88" font-size="25.2" text-anchor="end" fill="#000" >10</text>
<line x1="1340.3" y1="331.31" x2="1348.6" y2="331.31" stroke="#000" stroke-width="4" />
<text x="1327.4" y="340.73" font-size="25.2" text-anchor="end" fill="#000" >20</text>
<line x1="1340.3" y1="288.17" x2="1348.6" y2="288.17" stroke="#000" stroke-width="4" />
<text x="1327.4" y="297.59" font-size="25.2" text-anchor="end" fill="#000" >30</text>
<line x1="1340.3" y1="245.02" x2="1348.6" y2="245.02" stroke="#000" stroke-width="4" />
<text x="1327.4" y="254.44" font-size="25.2" text-anchor="end" fill="#000" >40</text>
<line x1="1340.3" y1="201.88" x2="1348.6" y2="201.88" stroke="#000" stroke-width="4" />
<text x="1327.4" y="211.3" font-size="25.2" text-anchor="end" fill="#000" >50</text>
<line x1="1340.3" y1="158.73" x2="1348.6" y2="158.73" stroke="#000" stroke-width="4" />
<text x="1327.4" y="168.15" font-size="25.2" text-anchor="end" fill="#000" >60</text>
<line x1="1340.3" y1="115.59" x2="1348.6" y2="115.59" stroke="#000" stroke-width="4" />
<text x="1327.4" y="125.01" font-size="25.2" text-anchor="end" fill="#000" >70</text>
<line x1="1340.3" y1="72.44" x2="1348.6" y2="72.44" stroke="#000" stroke-width="4" />
<text x="1327.4" y="81.87" font-size="25.2" text-anchor="end" fill="#000" >80</text>
<line x1="1340.3" y1="29.3" x2="1348.6" y2="29.3" stroke="#000" stroke-width="4" />
<text x="1327.4" y="38.72" font-size="25.2" text-anchor="end" fill="#000" >90</text>
<line x1="1372.81" y1="417.6" x2="1372.81" y2="421.4" stroke="#000" stroke-width="3.6" />
<line x1="1421.23" y1="417.6" x2="1421.23" y2="421.4" stroke="#000" stroke-width="3.6" />
<line x1="1469.65" y1="417.6" x2="1469.65" y2="421.4" stroke="#000" stroke-width="3.6" />
<line x1="1518.07" y1="417.6" x2="1518.07" y2="421.4" stroke="#000" stroke-width="3.6" />
<line x1="1566.49" y1="417.6" x2="1566.49" y2="421.4" stroke="#000" stroke-width="3.6" />
<line x1="1614.91" y1="417.6" x2="1614.91" y2="421.4" stroke="#000" stroke-width="3.6" />
<line x1="1663.33" y1="417.6" x2="1663.33" y2="421.4" stroke="#000" stroke-width="3.6" />
<line x1="1711.75" y1="417.6" x2="1711.75" y2="421.4" stroke="#000" stroke-width="3.6" />
<line x1="1760.17" y1="417.6" x2="1760.17" y2="421.4" stroke="#000" stroke-width="3.6" />
<line x1="1808.59" y1="417.6" x2="1808.59" y2="421.4" stroke="#000" stroke-width="3.6" />
<line x1="1348.6" y1="417.6" x2="1348.6" y2="425.1" stroke="#000" stroke-width="4" />
<text x="1348.6" y="458.4" font-size="25.2" text-anchor="middle" fill="#000" >–10</text>
<line x1="1397.02" y1="417.6" x2="1397.02" y2="425.1" stroke="#000" stroke-width="4" />
<text x="1397.02" y="458.4" font-size="25.2" text-anchor="middle" fill="#000" >–8</text>
<line x1="1445.44" y1="417.6" x2="1445.44" y2="425.1" stroke="#000" stroke-width="4" />
<text x="1445.44" y="458.4" font-size="25.2" text-anchor="middle" fill="#000" >–6</text>
<line x1="1493.86" y1="417.6" x2="1493.86" y2="425.1" stroke="#000" stroke-width="4" />
<text x="1493.86" y="458.4" font-size="25.2" text-anchor="middle" fill="#000" >–4</text>
<line x1="1542.28" y1="417.6" x2="1542.28" y2="425.1" stroke="#000" stroke-width="4" />
<text x="1542.28" y="458.4" font-size="25.2" text-anchor="middle" fill="#000" >–2</text>
<line x1="1590.7" y1="417.6" x2="1590.7" y2="425.1" stroke="#000" stroke-width="4" />
<text x="1590.7" y="458.4" font-size="25.2" text-anchor="middle" fill="#000" >0</text>
<line x1="1639.12" y1="417.6" x2="1639.12" y2="425.1" stroke="#000" stroke-width="4" />
<text x="1639.12" y="458.4" font-size="25.2" text-anchor="middle" fill="#000" >2</text>
<line x1="1687.54" y1="417.6" x2="1687.54" y2="425.1" stroke="#000" stroke-width="4" />
<text x="1687.54" y="458.4" font-size="25.2" text-anchor="middle" fill="#000" >4</text>
<line x1="1735.96" y1="417.6" x2="1735.96" y2="425.1" stroke="#000" stroke-width="4" />
<text x="1735.96" y="458.4" font-size="25.2" text-anchor="middle" fill="#000" >6</text>
<line x1="1784.38" y1="417.6" x2="1784.38" y2="425.1" stroke="#000" stroke-width="4" />
<text x="1784.38" y="458.4" font-size="25.2" text-anchor="middle" fill="#000" >8</text>
<line x1="1832.8" y1="417.6" x2="1832.8" y2="425.1" stroke="#000" stroke-width="4" />
<text x="1832.8" y="458.4" font-size="25.2" text-anchor="middle" fill="#000" >10</text>
<text x="1590.2" y="502" font-size="25" text-anchor="middle" fill="#000" >Drain voltage (V)</text>
<text transform="translate(1270.9 222.5) rotate(-90)" font-size="25" text-anchor="middle"><tspan font-style="italic">R</tspan> (A/W)</text>
<line x1="460.9" y1="340.45" x2="506.6" y2="340.45" stroke="#1f3cf5" stroke-width="4" />
<text x="513.8" y="347.05" font-size="20.5" text-anchor="start" fill="#000" >450 nm</text>
<line x1="460.9" y1="365.3" x2="506.6" y2="365.3" stroke="#00d800" stroke-width="4" />
<text x="513.8" y="371.9" font-size="20.5" text-anchor="start" fill="#000" >532 nm</text>
<line x1="460.9" y1="390.4" x2="506.6" y2="390.4" stroke="#fa3c3c" stroke-width="4" />
<text x="513.8" y="397" font-size="20.5" text-anchor="start" fill="#000" >633 nm</text>
<line x1="1076.9" y1="347.9" x2="1122.9" y2="347.9" stroke="#1f3cf5" stroke-width="4" />
<text x="1131.8" y="355.8" font-size="20.5" text-anchor="start" fill="#000" >450 nm</text>
<line x1="1076.9" y1="372.9" x2="1122.9" y2="372.9" stroke="#00d800" stroke-width="4" />
<text x="1131.8" y="380.8" font-size="20.5" text-anchor="start" fill="#000" >532 nm</text>
<line x1="1076.9" y1="397.9" x2="1122.9" y2="397.9" stroke="#fa3c3c" stroke-width="4" />
<text x="1131.8" y="405.8" font-size="20.5" text-anchor="start" fill="#000" >633 nm</text>
<line x1="1698.6" y1="353.7" x2="1744.2" y2="353.7" stroke="#1f3cf5" stroke-width="4" />
<text x="1749.3" y="361" font-size="20.5" text-anchor="start" fill="#000" >450 nm</text>
<line x1="1698.6" y1="378.6" x2="1744.2" y2="378.6" stroke="#00d800" stroke-width="4" />
<text x="1749.3" y="385.9" font-size="20.5" text-anchor="start" fill="#000" >532 nm</text>
<line x1="1698.6" y1="403.1" x2="1744.2" y2="403.1" stroke="#fa3c3c" stroke-width="4" />
<text x="1749.3" y="410.4" font-size="20.5" text-anchor="start" fill="#000" >633 nm</text>
<text x="116.9" y="389.9" font-size="24.8" text-anchor="start"><tspan font-style="italic">V</tspan><tspan font-size="16.86" dx="-2.11" dy="7.69">g</tspan><tspan dy="-7.69"> = 0V</tspan></text>
<text x="732.9" y="392.3" font-size="24.8" text-anchor="start"><tspan font-style="italic">V</tspan><tspan font-size="16.86" dx="-2.11" dy="7.69">g</tspan><tspan dy="-7.69"> = 1V</tspan></text>
<text x="1356.8" y="396.2" font-size="24.8" text-anchor="start"><tspan font-style="italic">V</tspan><tspan font-size="16.86" dx="-2.11" dy="7.69">g</tspan><tspan dy="-7.69"> = –1V</tspan></text>
<polyline points="152.79,774.97 330.53,844.44 549.45,807.03" fill="none" stroke="#555555" stroke-width="4" stroke-linejoin="round" />
<rect x="148.59" y="770.77" width="8.4" height="8.4" fill="#555555"/>
<rect x="326.33" y="840.24" width="8.4" height="8.4" fill="#555555"/>
<rect x="545.25" y="802.83" width="8.4" height="8.4" fill="#555555"/>
<polyline points="152.79,865.82 330.53,945.98 549.45,933.51" fill="none" stroke="#ee3b42" stroke-width="4" stroke-linejoin="round" />
<circle cx="152.79" cy="865.82" r="4.9" fill="#ee3b42"/>
<circle cx="330.53" cy="945.98" r="4.9" fill="#ee3b42"/>
<circle cx="549.45" cy="933.51" r="4.9" fill="#ee3b42"/>
<polyline points="152.79,719.75 330.53,757.15 549.45,611.08" fill="none" stroke="#1a6ee0" stroke-width="4" stroke-linejoin="round" />
<path d="M152.79,713.35 L157.99,722.85 L147.59,722.85 Z" fill="#1a6ee0"/>
<path d="M330.53,750.75 L335.73,760.25 L325.33,760.25 Z" fill="#1a6ee0"/>
<path d="M549.45,604.68 L554.65,614.18 L544.25,614.18 Z" fill="#1a6ee0"/>
<rect x="98.6" y="580.8" width="487.7" height="391.9" fill="none" stroke="#000" stroke-width="4.2"/>
<line x1="94.1" y1="954.89" x2="98.6" y2="954.89" stroke="#000" stroke-width="3.8" />
<line x1="94.1" y1="919.26" x2="98.6" y2="919.26" stroke="#000" stroke-width="3.8" />
<line x1="94.1" y1="883.63" x2="98.6" y2="883.63" stroke="#000" stroke-width="3.8" />
<line x1="94.1" y1="848" x2="98.6" y2="848" stroke="#000" stroke-width="3.8" />
<line x1="94.1" y1="812.38" x2="98.6" y2="812.38" stroke="#000" stroke-width="3.8" />
<line x1="94.1" y1="776.75" x2="98.6" y2="776.75" stroke="#000" stroke-width="3.8" />
<line x1="94.1" y1="741.12" x2="98.6" y2="741.12" stroke="#000" stroke-width="3.8" />
<line x1="94.1" y1="705.5" x2="98.6" y2="705.5" stroke="#000" stroke-width="3.8" />
<line x1="94.1" y1="669.87" x2="98.6" y2="669.87" stroke="#000" stroke-width="3.8" />
<line x1="94.1" y1="634.24" x2="98.6" y2="634.24" stroke="#000" stroke-width="3.8" />
<line x1="94.1" y1="598.61" x2="98.6" y2="598.61" stroke="#000" stroke-width="3.8" />
<line x1="90.6" y1="972.7" x2="98.6" y2="972.7" stroke="#000" stroke-width="4" />
<text x="77.6" y="982.65" font-size="25" text-anchor="end" fill="#000" >20</text>
<line x1="90.6" y1="937.07" x2="98.6" y2="937.07" stroke="#000" stroke-width="4" />
<text x="77.6" y="947.02" font-size="25" text-anchor="end" fill="#000" >22</text>
<line x1="90.6" y1="901.45" x2="98.6" y2="901.45" stroke="#000" stroke-width="4" />
<text x="77.6" y="911.4" font-size="25" text-anchor="end" fill="#000" >24</text>
<line x1="90.6" y1="865.82" x2="98.6" y2="865.82" stroke="#000" stroke-width="4" />
<text x="77.6" y="875.77" font-size="25" text-anchor="end" fill="#000" >26</text>
<line x1="90.6" y1="830.19" x2="98.6" y2="830.19" stroke="#000" stroke-width="4" />
<text x="77.6" y="840.14" font-size="25" text-anchor="end" fill="#000" >28</text>
<line x1="90.6" y1="794.56" x2="98.6" y2="794.56" stroke="#000" stroke-width="4" />
<text x="77.6" y="804.51" font-size="25" text-anchor="end" fill="#000" >30</text>
<line x1="90.6" y1="758.94" x2="98.6" y2="758.94" stroke="#000" stroke-width="4" />
<text x="77.6" y="768.89" font-size="25" text-anchor="end" fill="#000" >32</text>
<line x1="90.6" y1="723.31" x2="98.6" y2="723.31" stroke="#000" stroke-width="4" />
<text x="77.6" y="733.26" font-size="25" text-anchor="end" fill="#000" >34</text>
<line x1="90.6" y1="687.68" x2="98.6" y2="687.68" stroke="#000" stroke-width="4" />
<text x="77.6" y="697.63" font-size="25" text-anchor="end" fill="#000" >36</text>
<line x1="90.6" y1="652.05" x2="98.6" y2="652.05" stroke="#000" stroke-width="4" />
<text x="77.6" y="662" font-size="25" text-anchor="end" fill="#000" >38</text>
<line x1="90.6" y1="616.43" x2="98.6" y2="616.43" stroke="#000" stroke-width="4" />
<text x="77.6" y="626.38" font-size="25" text-anchor="end" fill="#000" >40</text>
<line x1="90.6" y1="580.8" x2="98.6" y2="580.8" stroke="#000" stroke-width="4" />
<text x="77.6" y="590.75" font-size="25" text-anchor="end" fill="#000" >42</text>
<line x1="109.44" y1="972.7" x2="109.44" y2="976.8" stroke="#000" stroke-width="4" />
<line x1="120.28" y1="972.7" x2="120.28" y2="976.8" stroke="#000" stroke-width="4" />
<line x1="131.11" y1="972.7" x2="131.11" y2="976.8" stroke="#000" stroke-width="4" />
<line x1="141.95" y1="972.7" x2="141.95" y2="976.8" stroke="#000" stroke-width="4" />
<line x1="163.63" y1="972.7" x2="163.63" y2="976.8" stroke="#000" stroke-width="4" />
<line x1="174.46" y1="972.7" x2="174.46" y2="976.8" stroke="#000" stroke-width="4" />
<line x1="185.3" y1="972.7" x2="185.3" y2="976.8" stroke="#000" stroke-width="4" />
<line x1="196.14" y1="972.7" x2="196.14" y2="976.8" stroke="#000" stroke-width="4" />
<line x1="217.82" y1="972.7" x2="217.82" y2="976.8" stroke="#000" stroke-width="4" />
<line x1="228.65" y1="972.7" x2="228.65" y2="976.8" stroke="#000" stroke-width="4" />
<line x1="239.49" y1="972.7" x2="239.49" y2="976.8" stroke="#000" stroke-width="4" />
<line x1="250.33" y1="972.7" x2="250.33" y2="976.8" stroke="#000" stroke-width="4" />
<line x1="272" y1="972.7" x2="272" y2="976.8" stroke="#000" stroke-width="4" />
<line x1="282.84" y1="972.7" x2="282.84" y2="976.8" stroke="#000" stroke-width="4" />
<line x1="293.68" y1="972.7" x2="293.68" y2="976.8" stroke="#000" stroke-width="4" />
<line x1="304.52" y1="972.7" x2="304.52" y2="976.8" stroke="#000" stroke-width="4" />
<line x1="326.19" y1="972.7" x2="326.19" y2="976.8" stroke="#000" stroke-width="4" />
<line x1="337.03" y1="972.7" x2="337.03" y2="976.8" stroke="#000" stroke-width="4" />
<line x1="347.87" y1="972.7" x2="347.87" y2="976.8" stroke="#000" stroke-width="4" />
<line x1="358.71" y1="972.7" x2="358.71" y2="976.8" stroke="#000" stroke-width="4" />
<line x1="380.38" y1="972.7" x2="380.38" y2="976.8" stroke="#000" stroke-width="4" />
<line x1="391.22" y1="972.7" x2="391.22" y2="976.8" stroke="#000" stroke-width="4" />
<line x1="402.06" y1="972.7" x2="402.06" y2="976.8" stroke="#000" stroke-width="4" />
<line x1="412.9" y1="972.7" x2="412.9" y2="976.8" stroke="#000" stroke-width="4" />
<line x1="434.57" y1="972.7" x2="434.57" y2="976.8" stroke="#000" stroke-width="4" />
<line x1="445.41" y1="972.7" x2="445.41" y2="976.8" stroke="#000" stroke-width="4" />
<line x1="456.25" y1="972.7" x2="456.25" y2="976.8" stroke="#000" stroke-width="4" />
<line x1="467.08" y1="972.7" x2="467.08" y2="976.8" stroke="#000" stroke-width="4" />
<line x1="488.76" y1="972.7" x2="488.76" y2="976.8" stroke="#000" stroke-width="4" />
<line x1="499.6" y1="972.7" x2="499.6" y2="976.8" stroke="#000" stroke-width="4" />
<line x1="510.44" y1="972.7" x2="510.44" y2="976.8" stroke="#000" stroke-width="4" />
<line x1="521.27" y1="972.7" x2="521.27" y2="976.8" stroke="#000" stroke-width="4" />
<line x1="542.95" y1="972.7" x2="542.95" y2="976.8" stroke="#000" stroke-width="4" />
<line x1="553.79" y1="972.7" x2="553.79" y2="976.8" stroke="#000" stroke-width="4" />
<line x1="564.62" y1="972.7" x2="564.62" y2="976.8" stroke="#000" stroke-width="4" />
<line x1="575.46" y1="972.7" x2="575.46" y2="976.8" stroke="#000" stroke-width="4" />
<line x1="98.6" y1="972.7" x2="98.6" y2="980.7" stroke="#000" stroke-width="4.2" />
<text x="98.6" y="1012.6" font-size="25" text-anchor="middle" fill="#000" >425</text>
<line x1="152.79" y1="972.7" x2="152.79" y2="980.7" stroke="#000" stroke-width="4.2" />
<text x="152.79" y="1012.6" font-size="25" text-anchor="middle" fill="#000" >450</text>
<line x1="206.98" y1="972.7" x2="206.98" y2="980.7" stroke="#000" stroke-width="4.2" />
<text x="206.98" y="1012.6" font-size="25" text-anchor="middle" fill="#000" >475</text>
<line x1="261.17" y1="972.7" x2="261.17" y2="980.7" stroke="#000" stroke-width="4.2" />
<text x="261.17" y="1012.6" font-size="25" text-anchor="middle" fill="#000" >500</text>
<line x1="315.36" y1="972.7" x2="315.36" y2="980.7" stroke="#000" stroke-width="4.2" />
<text x="315.36" y="1012.6" font-size="25" text-anchor="middle" fill="#000" >525</text>
<line x1="369.54" y1="972.7" x2="369.54" y2="980.7" stroke="#000" stroke-width="4.2" />
<text x="369.54" y="1012.6" font-size="25" text-anchor="middle" fill="#000" >550</text>
<line x1="423.73" y1="972.7" x2="423.73" y2="980.7" stroke="#000" stroke-width="4.2" />
<text x="423.73" y="1012.6" font-size="25" text-anchor="middle" fill="#000" >575</text>
<line x1="477.92" y1="972.7" x2="477.92" y2="980.7" stroke="#000" stroke-width="4.2" />
<text x="477.92" y="1012.6" font-size="25" text-anchor="middle" fill="#000" >600</text>
<line x1="532.11" y1="972.7" x2="532.11" y2="980.7" stroke="#000" stroke-width="4.2" />
<text x="532.11" y="1012.6" font-size="25" text-anchor="middle" fill="#000" >625</text>
<line x1="586.3" y1="972.7" x2="586.3" y2="980.7" stroke="#000" stroke-width="4.2" />
<text x="586.3" y="1012.6" font-size="25" text-anchor="middle" fill="#000" >650</text>
<text x="342.3" y="1057" font-size="25" text-anchor="middle" fill="#000" >Wavelength (nm)</text>
<text transform="translate(20 776) rotate(-90)" font-size="25" text-anchor="middle"><tspan font-style="italic">R</tspan> (A/W)</text>
<line x1="107.1" y1="596.6" x2="148" y2="596.6" stroke="#555555" stroke-width="4.2" />
<rect x="123.1" y="592.2" width="8.8" height="8.8" fill="#555555"/>
<text x="154.7" y="604.6" font-size="24.8" text-anchor="start"><tspan font-style="italic">V</tspan><tspan font-size="16.86" dx="-2.11" dy="7.69">g</tspan><tspan dy="-7.69"> = 0V</tspan></text>
<line x1="107.1" y1="626.2" x2="148" y2="626.2" stroke="#ee3b42" stroke-width="4.2" />
<circle cx="127.5" cy="626.2" r="5.1" fill="#ee3b42"/>
<text x="154.7" y="636.6" font-size="24.8" text-anchor="start"><tspan font-style="italic">V</tspan><tspan font-size="16.86" dx="-2.11" dy="7.69">g</tspan><tspan dy="-7.69"> = 1V</tspan></text>
<line x1="107.1" y1="656.3" x2="148" y2="656.3" stroke="#1a6ee0" stroke-width="4.2" />
<path d="M127.5,649.7 L132.9,659.6 L122.1,659.6 Z" fill="#1a6ee0"/>
<text x="154.7" y="668.5" font-size="24.8" text-anchor="start"><tspan font-style="italic">V</tspan><tspan font-size="16.86" dx="-2.11" dy="7.69">g</tspan><tspan dy="-7.69"> = –1V</tspan></text>
<g id="panel-e">
<rect x="656.4" y="609.4" width="571.7" height="365.2" fill="#fff" stroke="#000" stroke-width="4.8"/>
<text x="906.8" y="647.9" font-size="24.5"><tspan font-style="italic">V</tspan><tspan font-size="17.5" dy="7.2">g</tspan><tspan dy="-7.2"> &gt; 0</tspan></text>
<circle cx="1121.5" cy="628.4" r="11.8" fill="url(#gE2)"/>
<rect x="1115.72" y="627.1" width="11.56" height="4.6" fill="#fff"/>
<circle cx="1121.5" cy="661.1" r="11.8" fill="url(#gH2)"/>
<path d="M1115.6,659.62h11.8v4.96h-11.8z M1119.02,656.2h4.96v11.8h-4.96z" fill="#fff"/>
<text x="1139.5" y="633.7" font-size="20.7" text-anchor="start" fill="#000" >Electron</text>
<text x="1139.5" y="668.3" font-size="20.7" text-anchor="start" fill="#000" >Hole</text>
<path d="M805.5,792.8 C808,803 816,812 831.4,816.6 C848,821 880,821.5 903.8,819.7 C925,817.5 975,806 997,799 C1015,793 1036,784 1049.8,776.2 L1049.8,870.4 C1040,873 1000,883 976.3,889 C950,895.5 930,900 914.2,902.5 C895,905.5 850,906.5 831.4,903.5 C822,901.5 816,898.5 812.8,895.2 C809,860 807,825 805.5,792.8 Z" fill="url(#gY)" stroke="#fbc64a" stroke-width="1.4"/>
<path d="M1048.8,776.5 C1050,770 1054,766.5 1062,764.6 C1072,762.5 1085,761.8 1100,761.8 L1219.6,761.8 L1219.6,853.6 L1105,853.6 C1090,854 1080,857 1072,860.5 C1063,864.5 1054,868.5 1049.6,870.9 Z" fill="url(#gG)" stroke="#a7d08c" stroke-width="1.4"/>
<ellipse cx="766.8" cy="736.7" rx="61.2" ry="20.3" fill="none" stroke="#1ea7e1" stroke-width="3"/>
<path d="M752.04,865.5 L781.56,865.5 L823.72,937.76 A61.2,19.6 0 0 1 709.88,937.76 Z" fill="#1ea7e1" stroke="#1b84b6" stroke-width="3" stroke-linejoin="round"/>
<ellipse cx="766.8" cy="945.6" rx="61.2" ry="19.6" fill="#1ea7e1" stroke="#1b84b6" stroke-width="2.8"/>
<line x1="752.04" y1="865.5" x2="781.56" y2="865.5" stroke="#1ea7e1" stroke-width="2.4"/>
<line x1="709.88" y1="745.23" x2="781.56" y2="865.5" stroke="#1ea7e1" stroke-width="3"/>
<line x1="823.72" y1="745.23" x2="752.04" y2="865.5" stroke="#1ea7e1" stroke-width="3"/>
<path d="M708,865.5 L812,865.5 C822,865.2 828,863.5 840,861.5 L922.5,850.7 L976.3,841.4 C995,838 1003,835.5 1012,834.3 C1022,833.2 1032,833.3 1044,833.3 L1139.9,833.3" fill="none" stroke="#000" stroke-width="3" stroke-dasharray="11.7 8.6"/>
<line x1="807.6" y1="798" x2="911" y2="798" stroke="#1ea7e1" stroke-width="2" stroke-dasharray="7 5.2"/>
<line x1="807.6" y1="819.7" x2="905" y2="819.7" stroke="#1ea7e1" stroke-width="2" stroke-dasharray="7 5.2"/>
<line x1="988.7" y1="765.3" x2="1057" y2="765.3" stroke="#1ea7e1" stroke-width="2" stroke-dasharray="7 5.2"/>
<line x1="988.7" y1="779.3" x2="1044.6" y2="779.3" stroke="#1ea7e1" stroke-width="2" stroke-dasharray="7 5.2"/>
<path d="M888.8,800 L885.05,806.8 L892.55,806.8 Z" fill="#000"/>
<line x1="888.8" y1="806.8" x2="888.8" y2="814.7" stroke="#000" stroke-width="2.2"/>
<path d="M888.8,821 L885.05,814.2 L892.55,814.2 Z" fill="#000"/>
<path d="M993.9,765 L989.9,771.6 L997.9,771.6 Z" fill="#000"/>
<line x1="993.9" y1="771.6" x2="993.9" y2="773.7" stroke="#000" stroke-width="2"/>
<path d="M993.9,779.8 L989.9,773.2 L997.9,773.2 Z" fill="#000"/>
<text x="847.6" y="792.7" font-size="12.2">q<tspan font-style="italic" dx="0.8">V</tspan><tspan font-size="8.3" dy="3.66" dx="-0.6">D1</tspan><tspan dy="-3.66">+q</tspan><tspan font-style="italic" dx="1.0">V</tspan><tspan font-size="8.3" dy="3.66" dx="-0.6">1</tspan></text>
<text x="979" y="753.4" font-size="12.2">q<tspan font-style="italic" dx="0.8">V</tspan><tspan font-size="8.3" dy="3.66" dx="-0.6">D2</tspan><tspan dy="-3.66">-q</tspan><tspan font-style="italic" dx="1.0">V</tspan><tspan font-size="8.3" dy="3.66" dx="-0.6">2</tspan></text>
<text x="671" y="856" font-size="12.65"><tspan font-style="italic">E</tspan><tspan>`</tspan><tspan dy="3.79" font-size="8.86">f</tspan><tspan dy="-3.79">(Gr-MoS</tspan><tspan dy="3.79" font-size="8.86">2</tspan><tspan dy="-3.79">)</tspan></text>
<text x="1097.5" y="822.8" font-size="12.3"><tspan font-style="italic">E</tspan><tspan>`</tspan><tspan dy="3.69" font-size="8.61">f</tspan><tspan dy="-3.69" font-size="16.97">(</tspan><tspan>MoS</tspan><tspan dy="3.69" font-size="8.61">2</tspan><tspan dy="-3.69">-SWCNT</tspan><tspan font-size="16.97">)</tspan></text>
<text x="1197.3" y="776.9" font-size="12"><tspan font-style="italic">E</tspan><tspan dy="3.6" font-size="8.4">c1</tspan></text>
<text x="1197.3" y="846.2" font-size="12"><tspan font-style="italic">E</tspan><tspan dy="3.6" font-size="8.4">v1</tspan></text>
<line x1="828.5" y1="863" x2="828.5" y2="832.9" stroke="#ff0000" stroke-width="3.1"/>
<path d="M828.5,822.6 L833.9,833.4 L823.1,833.4 Z" fill="#ff0000"/>
<line x1="851.7" y1="862" x2="851.7" y2="832.9" stroke="#ff0000" stroke-width="3.1"/>
<path d="M851.7,822.6 L857.1,833.4 L846.3,833.4 Z" fill="#ff0000"/>
<line x1="875.8" y1="858" x2="875.8" y2="832.9" stroke="#ff0000" stroke-width="3.1"/>
<path d="M875.8,822.6 L881.2,833.4 L870.4,833.4 Z" fill="#ff0000"/>
<line x1="899.3" y1="855" x2="899.3" y2="829.1" stroke="#ff0000" stroke-width="3.1"/>
<path d="M899.3,818.8 L904.7,829.6 L893.9,829.6 Z" fill="#ff0000"/>
<line x1="923.6" y1="851.5" x2="923.6" y2="825.8" stroke="#ff0000" stroke-width="3.1"/>
<path d="M923.6,815.5 L929,826.3 L918.2,826.3 Z" fill="#ff0000"/>
<line x1="847.1" y1="843.3" x2="837.29" y2="853.63" stroke="#ff0000" stroke-width="3.1"/>
<path d="M830.2,861.1 L833.72,849.55 L841.55,856.99 Z" fill="#ff0000"/>
<line x1="870.2" y1="841.9" x2="860.29" y2="852.63" stroke="#ff0000" stroke-width="3.1"/>
<path d="M853.3,860.2 L856.66,848.6 L864.59,855.93 Z" fill="#ff0000"/>
<line x1="895.1" y1="838.1" x2="885.19" y2="848.83" stroke="#ff0000" stroke-width="3.1"/>
<path d="M878.2,856.4 L881.56,844.8 L889.49,852.13 Z" fill="#ff0000"/>
<line x1="918.2" y1="835.3" x2="908.79" y2="845.23" stroke="#ff0000" stroke-width="3.1"/>
<path d="M901.7,852.7 L905.21,841.15 L913.05,848.58 Z" fill="#ff0000"/>
<line x1="942.6" y1="831.5" x2="932.77" y2="841.91" stroke="#ff0000" stroke-width="3.1"/>
<path d="M925.7,849.4 L929.19,837.84 L937.04,845.25 Z" fill="#ff0000"/>
<line x1="1012.5" y1="835.2" x2="1012.5" y2="814.5" stroke="#ff0000" stroke-width="3.1"/>
<path d="M1012.5,804.2 L1017.9,815 L1007.1,815 Z" fill="#ff0000"/>
<line x1="990.8" y1="822.4" x2="1001.58" y2="828.89" stroke="#ff0000" stroke-width="3.1"/>
<path d="M1010.4,834.2 L998.36,833.26 L1003.93,824 Z" fill="#ff0000"/>
<line x1="1082.9" y1="782" x2="1070.1" y2="800.79" stroke="#ff0000" stroke-width="3.1"/>
<path d="M1064.3,809.3 L1065.92,797.33 L1074.84,803.42 Z" fill="#ff0000"/>
<line x1="1066.6" y1="831.8" x2="1066.6" y2="847.8" stroke="#ff0000" stroke-width="3.1"/>
<path d="M1066.6,858.1 L1061.2,847.3 L1072,847.3 Z" fill="#ff0000"/>
<text x="951.8" y="830" font-size="24.5" text-anchor="start" fill="#ff0000" >hv</text>
<path d="M811.7,776.2 C812.5,786 816,793 822,795.5 C827,797.5 829,800 830.2,803.5" fill="none" stroke="#000" stroke-width="2.2" stroke-linecap="round"/>
<path d="M833.2,811.2 L825.09,803.15 L833.44,799.78 Z" fill="#000"/>
<path d="M1059.8,760 C1050,761.5 1046,765 1043.5,770 C1041.5,775 1041,778 1036,781.5 C1034,782.6 1033,783 1031.5,783.5" fill="none" stroke="#000" stroke-width="2.2" stroke-linecap="round"/>
<path d="M1025.4,784.6 L1032.21,779.32 L1033.97,785.47 Z" fill="#000"/>
<line x1="823.1" y1="923.2" x2="808.83" y2="900.56" stroke="#000" stroke-width="2.2"/>
<path d="M803.5,892.1 L812.91,898.58 L805.29,903.38 Z" fill="#000"/>
<line x1="1051.2" y1="880.3" x2="1065.77" y2="868.72" stroke="#000" stroke-width="2.2"/>
<path d="M1073.6,862.5 L1068.18,872.56 L1062.58,865.51 Z" fill="#000"/>
<circle cx="823.7" cy="766.4" r="11.3" fill="url(#gE)"/>
<rect x="819.36" y="764.41" width="11.07" height="4.18" fill="#fff"/>
<circle cx="848.5" cy="766.4" r="11.3" fill="url(#gE)"/>
<rect x="844.16" y="764.41" width="11.07" height="4.18" fill="#fff"/>
<circle cx="873.3" cy="766.4" r="11.3" fill="url(#gE)"/>
<rect x="868.96" y="764.41" width="11.07" height="4.18" fill="#fff"/>
<circle cx="898.1" cy="766.4" r="11.3" fill="url(#gE)"/>
<rect x="893.76" y="764.41" width="11.07" height="4.18" fill="#fff"/>
<circle cx="922.9" cy="766.4" r="11.3" fill="url(#gE)"/>
<rect x="918.56" y="764.41" width="11.07" height="4.18" fill="#fff"/>
<circle cx="947.7" cy="766.4" r="11.3" fill="url(#gE)"/>
<rect x="943.36" y="764.41" width="11.07" height="4.18" fill="#fff"/>
<circle cx="827.9" cy="874.3" r="10.9" fill="url(#gE)"/>
<rect x="823.76" y="872.38" width="10.68" height="4.03" fill="#fff"/>
<circle cx="851.4" cy="872.9" r="10.9" fill="url(#gE)"/>
<rect x="847.26" y="870.98" width="10.68" height="4.03" fill="#fff"/>
<circle cx="875.8" cy="869.1" r="10.9" fill="url(#gE)"/>
<rect x="871.66" y="867.18" width="10.68" height="4.03" fill="#fff"/>
<circle cx="899.8" cy="865.8" r="10.9" fill="url(#gE)"/>
<rect x="895.66" y="863.88" width="10.68" height="4.03" fill="#fff"/>
<circle cx="923.8" cy="862.5" r="10.9" fill="url(#gE)"/>
<rect x="919.66" y="860.58" width="10.68" height="4.03" fill="#fff"/>
<circle cx="1012.5" cy="846.2" r="10.9" fill="url(#gE)"/>
<rect x="1008.36" y="844.28" width="10.68" height="4.03" fill="#fff"/>
<circle cx="1067.5" cy="748.1" r="11.1" fill="url(#gE)"/>
<rect x="1063.26" y="746.15" width="10.88" height="4.11" fill="#fff"/>
<circle cx="1092.6" cy="748.1" r="11.1" fill="url(#gE)"/>
<rect x="1088.36" y="746.15" width="10.88" height="4.11" fill="#fff"/>
<circle cx="1117.6" cy="748.1" r="11.1" fill="url(#gE)"/>
<rect x="1113.36" y="746.15" width="10.88" height="4.11" fill="#fff"/>
<circle cx="833.5" cy="919.7" r="10.8" fill="url(#gH)"/>
<path d="M829.68,917.96h10.04v3.67h-10.04z M832.86,914.78h3.67v10.04h-3.67z" fill="#fff"/>
<circle cx="858.7" cy="922.2" r="10.8" fill="url(#gH)"/>
<path d="M854.88,920.46h10.04v3.67h-10.04z M858.06,917.28h3.67v10.04h-3.67z" fill="#fff"/>
<circle cx="882.1" cy="920.7" r="10.8" fill="url(#gH)"/>
<path d="M878.28,918.96h10.04v3.67h-10.04z M881.46,915.78h3.67v10.04h-3.67z" fill="#fff"/>
<circle cx="906.3" cy="918" r="10.8" fill="url(#gH)"/>
<path d="M902.48,916.26h10.04v3.67h-10.04z M905.66,913.08h3.67v10.04h-3.67z" fill="#fff"/>
<circle cx="930.8" cy="915.5" r="10.8" fill="url(#gH)"/>
<path d="M926.98,913.76h10.04v3.67h-10.04z M930.16,910.58h3.67v10.04h-3.67z" fill="#fff"/>
<circle cx="955" cy="911.8" r="10.8" fill="url(#gH)"/>
<path d="M951.18,910.06h10.04v3.67h-10.04z M954.36,906.88h3.67v10.04h-3.67z" fill="#fff"/>
<circle cx="991.8" cy="900.4" r="10.8" fill="url(#gH)"/>
<path d="M987.98,898.66h10.04v3.67h-10.04z M991.16,895.48h3.67v10.04h-3.67z" fill="#fff"/>
<circle cx="1016.7" cy="894.8" r="10.8" fill="url(#gH)"/>
<path d="M1012.88,893.06h10.04v3.67h-10.04z M1016.06,889.88h3.67v10.04h-3.67z" fill="#fff"/>
<circle cx="1039.4" cy="887.4" r="10.8" fill="url(#gH)"/>
<path d="M1035.58,885.66h10.04v3.67h-10.04z M1038.76,882.48h3.67v10.04h-3.67z" fill="#fff"/>
<circle cx="1065.7" cy="821" r="11" fill="url(#gH)"/>
<path d="M1061.79,819.23h10.23v3.74h-10.23z M1065.03,815.99h3.74v10.23h-3.74z" fill="#fff"/>
</g>
<g id="panel-f">
<rect x="1292.9" y="607.6" width="588.0" height="367.2" fill="#fff" stroke="#000" stroke-width="5"/>
<text x="1566.6" y="647.9" font-size="24.5"><tspan font-style="italic">V</tspan><tspan font-size="17.5" dy="7.2">g</tspan><tspan dy="-7.2"> &lt; 0</tspan></text>
<circle cx="1773.7" cy="628.8" r="11.8" fill="url(#gE2)"/>
<rect x="1767.92" y="627.5" width="11.56" height="4.6" fill="#fff"/>
<circle cx="1773.7" cy="661.6" r="11.8" fill="url(#gH2)"/>
<path d="M1767.8,660.12h11.8v4.96h-11.8z M1771.22,656.7h4.96v11.8h-4.96z" fill="#fff"/>
<text x="1791.5" y="634.1" font-size="20.7" text-anchor="start" fill="#000" >Electron</text>
<text x="1791.5" y="668.8" font-size="20.7" text-anchor="start" fill="#000" >Hole</text>
<path d="M1441.5,807.9 C1450,811 1458,814.5 1466.3,817.3 C1480,822 1494,826 1507.7,829.7 C1521,833.3 1535,836 1549,839 C1562,841.5 1574,843.8 1585.2,845 C1596,846 1608,846 1619,845 C1630,844 1640,842.5 1648.4,839.4 C1656,836.5 1660,834 1661.9,830.3 C1665.5,824.5 1667,818 1667.6,812.3 L1668.7,920.6 C1667,927 1663,930.5 1657.4,933.1 C1650,936.5 1640,937.6 1630.3,937.6 C1615,937.6 1600,936.5 1585.2,934.2 C1570,931.5 1560,929 1549,924.9 L1507.7,914.5 L1466.3,904.2 C1458,902.3 1450,900 1444.6,898 Z" fill="url(#gYf)" stroke="#fbc64a" stroke-width="1.4"/>
<path d="M1667.6,806 C1668.5,799 1672,794 1680,790.8 C1688,788 1698,786.6 1709.4,786.3 L1730,785.8 L1870.8,785.8 L1870.8,899.2 L1735,899.2 C1720,899.3 1708,900 1698,901.4 C1690,903 1684,905 1680,907.1 C1675,910 1671.5,914 1669.8,918.6 Z" fill="url(#gGf)" stroke="#a7d08c" stroke-width="1.4"/>
<ellipse cx="1397" cy="731.4" rx="61.6" ry="20.3" fill="none" stroke="#1ea7e1" stroke-width="3"/>
<path d="M1386.55,853.5 L1407.45,853.5 L1454.29,932.4 A61.6,20 0 0 1 1339.71,932.4 Z" fill="#1ea7e1" stroke="#1b84b6" stroke-width="3" stroke-linejoin="round"/>
<ellipse cx="1397" cy="940.4" rx="61.6" ry="20" fill="#1ea7e1" stroke="#1b84b6" stroke-width="2.8"/>
<line x1="1386.55" y1="853.5" x2="1407.45" y2="853.5" stroke="#1ea7e1" stroke-width="2.4"/>
<line x1="1339.71" y1="739.93" x2="1407.45" y2="853.5" stroke="#1ea7e1" stroke-width="3"/>
<line x1="1454.29" y1="739.93" x2="1386.55" y2="853.5" stroke="#1ea7e1" stroke-width="3"/>
<circle cx="1681.8" cy="871.1" r="10.8" fill="url(#gH)"/>
<path d="M1677.98,869.36h10.04v3.67h-10.04z M1681.16,866.18h3.67v10.04h-3.67z" fill="#fff"/>
<circle cx="1705.5" cy="871.1" r="10.8" fill="url(#gH)"/>
<path d="M1701.68,869.36h10.04v3.67h-10.04z M1704.86,866.18h3.67v10.04h-3.67z" fill="#fff"/>
<circle cx="1729.2" cy="871.1" r="10.8" fill="url(#gH)"/>
<path d="M1725.38,869.36h10.04v3.67h-10.04z M1728.56,866.18h3.67v10.04h-3.67z" fill="#fff"/>
<circle cx="1753.4" cy="871.1" r="10.8" fill="url(#gH)"/>
<path d="M1749.58,869.36h10.04v3.67h-10.04z M1752.76,866.18h3.67v10.04h-3.67z" fill="#fff"/>
<path d="M1341.5,853.5 L1452,853.5 C1462,853.8 1470,855.2 1487,858.2 L1538.7,864.9 L1596.5,873.2 L1652.9,880 C1660,881.2 1664,882.3 1672,882.6 L1838.5,882.6" fill="none" stroke="#000" stroke-width="3" stroke-dasharray="11.7 8.6"/>
<line x1="1442.5" y1="807.4" x2="1536.7" y2="807.4" stroke="#1ea7e1" stroke-width="2" stroke-dasharray="7 5.2"/>
<line x1="1442.5" y1="822.8" x2="1533.6" y2="822.8" stroke="#1ea7e1" stroke-width="2" stroke-dasharray="7 5.2"/>
<line x1="1586.3" y1="794.9" x2="1678.9" y2="794.9" stroke="#1ea7e1" stroke-width="2" stroke-dasharray="7 5.2"/>
<line x1="1588.5" y1="833.7" x2="1668.7" y2="833.7" stroke="#1ea7e1" stroke-width="2" stroke-dasharray="7 5.2"/>
<path d="M1518,806.6 L1514.3,812.6 L1521.7,812.6 Z" fill="#000"/>
<line x1="1518" y1="812.6" x2="1518" y2="817.5" stroke="#000" stroke-width="2"/>
<path d="M1518,823 L1514.3,817 L1521.7,817 Z" fill="#000"/>
<path d="M1606.6,795.6 L1601.6,806.1 L1611.6,806.1 Z" fill="#000"/>
<line x1="1606.6" y1="806.1" x2="1606.6" y2="823.2" stroke="#000" stroke-width="2.6"/>
<path d="M1606.6,833.2 L1601.6,822.7 L1611.6,822.7 Z" fill="#000"/>
<text x="1474.2" y="797.3" font-size="12.2">q<tspan font-style="italic" dx="0.8">V</tspan><tspan font-size="8.3" dy="3.66" dx="-0.6">D2</tspan><tspan dy="-3.66">-q</tspan><tspan font-style="italic" dx="1.0">V</tspan><tspan font-size="8.3" dy="3.66" dx="-0.6">2</tspan></text>
<text x="1594.8" y="785.1" font-size="12.2">q<tspan font-style="italic" dx="0.8">V</tspan><tspan font-size="8.3" dy="3.66" dx="-0.6">D1</tspan><tspan dy="-3.66">+q</tspan><tspan font-style="italic" dx="1.0">V</tspan><tspan font-size="8.3" dy="3.66" dx="-0.6">1</tspan></text>
<text x="1310" y="844.2" font-size="12.65"><tspan font-style="italic">E</tspan><tspan>`</tspan><tspan dy="3.79" font-size="8.86">f</tspan><tspan dy="-3.79">(Gr-MoS</tspan><tspan dy="3.79" font-size="8.86">2</tspan><tspan dy="-3.79">)</tspan></text>
<text x="1766" y="873.2" font-size="12.3"><tspan font-style="italic">E</tspan><tspan>`</tspan><tspan dy="3.69" font-size="8.61">f</tspan><tspan dy="-3.69" font-size="16.97">(</tspan><tspan>MoS</tspan><tspan dy="3.69" font-size="8.61">2</tspan><tspan dy="-3.69">-SWCNT</tspan><tspan font-size="16.97">)</tspan></text>
<text x="1851" y="800.5" font-size="12"><tspan font-style="italic">E</tspan><tspan dy="3.6" font-size="8.4">c1</tspan></text>
<text x="1851" y="891.8" font-size="12"><tspan font-style="italic">E</tspan><tspan dy="3.6" font-size="8.4">v1</tspan></text>
<line x1="1467.7" y1="858.7" x2="1467.7" y2="829.6" stroke="#ff0000" stroke-width="3.1"/>
<path d="M1467.7,819.3 L1473.1,830.1 L1462.3,830.1 Z" fill="#ff0000"/>
<line x1="1493.2" y1="859.7" x2="1493.2" y2="835.8" stroke="#ff0000" stroke-width="3.1"/>
<path d="M1493.2,825.5 L1498.6,836.3 L1487.8,836.3 Z" fill="#ff0000"/>
<line x1="1487" y1="836.9" x2="1476.93" y2="847.98" stroke="#ff0000" stroke-width="3.1"/>
<path d="M1470,855.6 L1473.27,843.98 L1481.26,851.24 Z" fill="#ff0000"/>
<line x1="1510.8" y1="840.4" x2="1501.35" y2="850.19" stroke="#ff0000" stroke-width="3.1"/>
<path d="M1494.2,857.6 L1497.81,846.08 L1505.59,853.58 Z" fill="#ff0000"/>
<line x1="1579.5" y1="874.4" x2="1579.5" y2="852.9" stroke="#ff0000" stroke-width="3.1"/>
<path d="M1579.5,843.9 L1584.25,853.4 L1574.75,853.4 Z" fill="#ff0000"/>
<line x1="1603.9" y1="876.6" x2="1603.9" y2="856.3" stroke="#ff0000" stroke-width="3.1"/>
<path d="M1603.9,847.3 L1608.65,856.8 L1599.15,856.8 Z" fill="#ff0000"/>
<line x1="1628.5" y1="880" x2="1628.5" y2="855.1" stroke="#ff0000" stroke-width="3.1"/>
<path d="M1628.5,846.1 L1633.25,855.6 L1623.75,855.6 Z" fill="#ff0000"/>
<line x1="1652.2" y1="882.3" x2="1652.2" y2="846.1" stroke="#ff0000" stroke-width="3.1"/>
<path d="M1652.2,837.1 L1656.95,846.6 L1647.45,846.6 Z" fill="#ff0000"/>
<line x1="1564.8" y1="855.2" x2="1572.97" y2="866.02" stroke="#ff0000" stroke-width="3.1"/>
<path d="M1578.4,873.2 L1568.88,868.48 L1576.46,862.76 Z" fill="#ff0000"/>
<line x1="1587.4" y1="856.3" x2="1596.63" y2="868.35" stroke="#ff0000" stroke-width="3.1"/>
<path d="M1602.1,875.5 L1592.55,870.84 L1600.1,865.07 Z" fill="#ff0000"/>
<line x1="1612.3" y1="861.9" x2="1621.04" y2="872.07" stroke="#ff0000" stroke-width="3.1"/>
<path d="M1626.9,878.9 L1617.11,874.79 L1624.31,868.6 Z" fill="#ff0000"/>
<line x1="1636" y1="863.1" x2="1644.93" y2="874.11" stroke="#ff0000" stroke-width="3.1"/>
<path d="M1650.6,881.1 L1640.93,876.71 L1648.3,870.73 Z" fill="#ff0000"/>
<line x1="1699.2" y1="826.3" x2="1686" y2="852.04" stroke="#ff0000" stroke-width="3.1"/>
<path d="M1681.3,861.2 L1681.42,849.13 L1691.03,854.05 Z" fill="#ff0000"/>
<line x1="1720.6" y1="829.2" x2="1709.51" y2="851.94" stroke="#ff0000" stroke-width="3.1"/>
<path d="M1705,861.2 L1704.88,849.13 L1714.59,853.86 Z" fill="#ff0000"/>
<line x1="1746.6" y1="830.3" x2="1734.25" y2="852.23" stroke="#ff0000" stroke-width="3.1"/>
<path d="M1729.2,861.2 L1729.79,849.14 L1739.2,854.44 Z" fill="#ff0000"/>
<line x1="1771.5" y1="828.1" x2="1757.95" y2="852.22" stroke="#ff0000" stroke-width="3.1"/>
<path d="M1752.9,861.2 L1753.48,849.14 L1762.9,854.43 Z" fill="#ff0000"/>
<line x1="1681.8" y1="881.1" x2="1681.8" y2="895.7" stroke="#ff0000" stroke-width="2.4"/>
<path d="M1681.8,903.7 L1677.55,895.2 L1686.05,895.2 Z" fill="#ff0000"/>
<line x1="1705.5" y1="881.1" x2="1705.5" y2="890.8" stroke="#ff0000" stroke-width="2.8"/>
<path d="M1705.5,898.6 L1701.75,890.3 L1709.25,890.3 Z" fill="#ff0000"/>
<line x1="1729.2" y1="881.1" x2="1729.2" y2="890.2" stroke="#ff0000" stroke-width="2.8"/>
<path d="M1729.2,898 L1725.45,889.7 L1732.95,889.7 Z" fill="#ff0000"/>
<line x1="1753.4" y1="881.1" x2="1753.4" y2="890.8" stroke="#ff0000" stroke-width="2.8"/>
<path d="M1753.4,898.6 L1749.65,890.3 L1757.15,890.3 Z" fill="#ff0000"/>
<text x="1731.7" y="820" font-size="24.5" text-anchor="start" fill="#ff0000" >hv</text>
<path d="M1442,793.3 C1450,793.5 1455,796.5 1456.5,801.5 C1457.5,806 1459.5,808.6 1463,810.2" fill="none" stroke="#000" stroke-width="2.2" stroke-linecap="round"/>
<path d="M1470.4,813.4 L1458.99,812.84 L1462.94,804.75 Z" fill="#000"/>
<path d="M1674.8,779.5 C1668,782 1664.5,788 1663.5,796 C1662.5,806 1656,814 1641,817.8" fill="none" stroke="#000" stroke-width="2.2" stroke-linecap="round"/>
<path d="M1630.3,820.2 L1639.63,813.62 L1641.51,822.42 Z" fill="#000"/>
<line x1="1455.5" y1="918.3" x2="1439.46" y2="896.1" stroke="#000" stroke-width="2.2"/>
<path d="M1433.6,888 L1443.4,893.87 L1436.1,899.15 Z" fill="#000"/>
<line x1="1675.5" y1="933.1" x2="1688.23" y2="918.12" stroke="#000" stroke-width="2.2"/>
<path d="M1694.7,910.5 L1691.33,921.42 L1684.47,915.59 Z" fill="#000"/>
<circle cx="1448.1" cy="771.7" r="11.3" fill="url(#gE)"/>
<rect x="1443.76" y="769.71" width="11.07" height="4.18" fill="#fff"/>
<circle cx="1472.9" cy="771.7" r="11.3" fill="url(#gE)"/>
<rect x="1468.56" y="769.71" width="11.07" height="4.18" fill="#fff"/>
<circle cx="1497.8" cy="771.7" r="11.3" fill="url(#gE)"/>
<rect x="1493.46" y="769.71" width="11.07" height="4.18" fill="#fff"/>
<circle cx="1690.2" cy="770.5" r="10.9" fill="url(#gE)"/>
<rect x="1686.06" y="768.58" width="10.68" height="4.03" fill="#fff"/>
<circle cx="1715" cy="770.5" r="10.9" fill="url(#gE)"/>
<rect x="1710.86" y="768.58" width="10.68" height="4.03" fill="#fff"/>
<circle cx="1739.7" cy="770.5" r="10.9" fill="url(#gE)"/>
<rect x="1735.56" y="768.58" width="10.68" height="4.03" fill="#fff"/>
<circle cx="1764.3" cy="770.5" r="10.9" fill="url(#gE)"/>
<rect x="1760.16" y="768.58" width="10.68" height="4.03" fill="#fff"/>
<circle cx="1789" cy="770.5" r="10.9" fill="url(#gE)"/>
<rect x="1784.86" y="768.58" width="10.68" height="4.03" fill="#fff"/>
<circle cx="1813.7" cy="770.5" r="10.9" fill="url(#gE)"/>
<rect x="1809.56" y="768.58" width="10.68" height="4.03" fill="#fff"/>
<circle cx="1467.3" cy="869.6" r="11" fill="url(#gE)"/>
<rect x="1463.11" y="867.67" width="10.78" height="4.07" fill="#fff"/>
<circle cx="1494.2" cy="871.7" r="11" fill="url(#gE)"/>
<rect x="1490.01" y="869.77" width="10.78" height="4.07" fill="#fff"/>
<circle cx="1578.8" cy="885.6" r="11" fill="url(#gE)"/>
<rect x="1574.61" y="883.67" width="10.78" height="4.07" fill="#fff"/>
<circle cx="1603.7" cy="889" r="11" fill="url(#gE)"/>
<rect x="1599.51" y="887.07" width="10.78" height="4.07" fill="#fff"/>
<circle cx="1628.1" cy="891.7" r="11" fill="url(#gE)"/>
<rect x="1623.91" y="889.77" width="10.78" height="4.07" fill="#fff"/>
<circle cx="1652.5" cy="894.7" r="11" fill="url(#gE)"/>
<rect x="1648.31" y="892.77" width="10.78" height="4.07" fill="#fff"/>
<circle cx="1470.9" cy="924.9" r="10.8" fill="url(#gH)"/>
<path d="M1467.08,923.16h10.04v3.67h-10.04z M1470.26,919.98h3.67v10.04h-3.67z" fill="#fff"/>
<circle cx="1495.3" cy="928" r="10.8" fill="url(#gH)"/>
<path d="M1491.48,926.26h10.04v3.67h-10.04z M1494.66,923.08h3.67v10.04h-3.67z" fill="#fff"/>
<circle cx="1518" cy="931.1" r="10.8" fill="url(#gH)"/>
<path d="M1514.18,929.36h10.04v3.67h-10.04z M1517.36,926.18h3.67v10.04h-3.67z" fill="#fff"/>
<circle cx="1552.3" cy="937.3" r="10.8" fill="url(#gH)"/>
<path d="M1548.48,935.56h10.04v3.67h-10.04z M1551.66,932.38h3.67v10.04h-3.67z" fill="#fff"/>
<circle cx="1577.7" cy="943" r="10.8" fill="url(#gH)"/>
<path d="M1573.88,941.26h10.04v3.67h-10.04z M1577.06,938.08h3.67v10.04h-3.67z" fill="#fff"/>
<circle cx="1602.1" cy="947.3" r="10.8" fill="url(#gH)"/>
<path d="M1598.28,945.56h10.04v3.67h-10.04z M1601.46,942.38h3.67v10.04h-3.67z" fill="#fff"/>
<circle cx="1626.9" cy="948.9" r="10.8" fill="url(#gH)"/>
<path d="M1623.08,947.16h10.04v3.67h-10.04z M1626.26,943.98h3.67v10.04h-3.67z" fill="#fff"/>
<circle cx="1650.6" cy="947.3" r="10.8" fill="url(#gH)"/>
<path d="M1646.78,945.56h10.04v3.67h-10.04z M1649.96,942.38h3.67v10.04h-3.67z" fill="#fff"/>
<circle cx="1674.8" cy="945.9" r="10.8" fill="url(#gH)"/>
<path d="M1670.98,944.16h10.04v3.67h-10.04z M1674.16,940.98h3.67v10.04h-3.67z" fill="#fff"/>
</g>
</svg></body></html>
